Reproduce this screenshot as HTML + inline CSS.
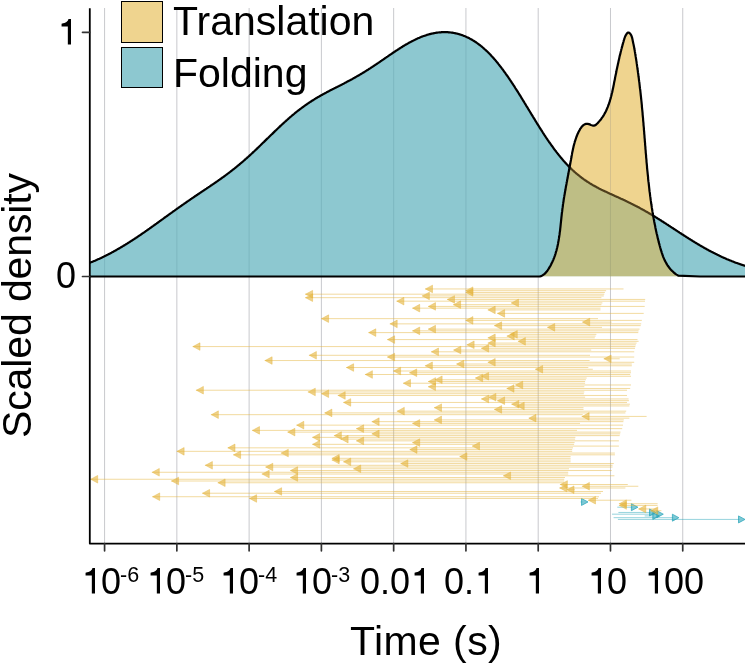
<!DOCTYPE html>
<html><head><meta charset="utf-8"><style>
html,body{margin:0;padding:0;background:#fff;}
body{width:745px;height:664px;position:relative;overflow:hidden;font-family:"Liberation Sans",sans-serif;}
svg{position:absolute;left:0;top:0;}
.t{position:absolute;white-space:nowrap;color:#000;line-height:1;will-change:transform;-webkit-font-smoothing:antialiased;}
.yl{font-size:36px;}
.xl{font-size:36px;}
.xl sup{font-size:21.5px;vertical-align:0;position:relative;top:-12px;margin-left:-1px;}
.leg{font-size:41px;}
.g1{width:0.556em;height:0.709em;vertical-align:0;display:inline-block;position:static;}
.key{position:absolute;box-sizing:border-box;border:1.8px solid #000;}
</style></head><body>
<svg width="745" height="664" viewBox="0 0 745 664">
<defs><clipPath id="pc"><rect x="90" y="0" width="655" height="544"/></clipPath>
<clipPath id="ct"><path d="M88.0 263.5 88.5 263.3 89.0 263.1 89.5 262.9 90.0 262.7 90.5 262.5 91.0 262.3 91.5 262.1 92.0 261.9 92.5 261.7 93.0 261.5 93.5 261.3 94.0 261.1 94.5 260.9 95.0 260.7 95.5 260.4 96.0 260.2 96.5 260.0 97.0 259.8 97.5 259.6 98.0 259.3 98.5 259.1 99.0 258.9 99.5 258.7 100.0 258.4 100.5 258.2 101.0 258.0 101.5 257.7 102.0 257.5 102.5 257.2 103.0 257.0 103.5 256.8 104.0 256.5 104.5 256.3 105.0 256.0 105.5 255.8 106.0 255.5 106.5 255.3 107.0 255.0 107.5 254.8 108.0 254.5 108.5 254.3 109.0 254.0 109.5 253.7 110.0 253.5 110.5 253.2 111.0 252.9 111.5 252.7 112.0 252.4 112.5 252.1 113.0 251.9 113.5 251.6 114.0 251.3 114.5 251.0 115.0 250.8 115.5 250.5 116.0 250.2 116.5 249.9 117.0 249.6 117.5 249.3 118.0 249.1 118.5 248.8 119.0 248.5 119.5 248.2 120.0 247.9 120.5 247.6 121.0 247.3 121.5 247.0 122.0 246.7 122.5 246.4 123.0 246.1 123.5 245.8 124.0 245.5 124.5 245.2 125.0 244.9 125.5 244.6 126.0 244.3 126.5 244.0 127.0 243.7 127.5 243.3 128.0 243.0 128.5 242.7 129.0 242.4 129.5 242.1 130.0 241.8 130.5 241.4 131.0 241.1 131.5 240.8 132.0 240.5 132.5 240.2 133.0 239.8 133.5 239.5 134.0 239.2 134.5 238.8 135.0 238.5 135.5 238.2 136.0 237.9 136.5 237.5 137.0 237.2 137.5 236.9 138.0 236.5 138.5 236.2 139.0 235.8 139.5 235.5 140.0 235.2 140.5 234.8 141.0 234.5 141.5 234.1 142.0 233.8 142.5 233.4 143.0 233.1 143.5 232.8 144.0 232.4 144.5 232.1 145.0 231.7 145.5 231.4 146.0 231.0 146.5 230.7 147.0 230.3 147.5 230.0 148.0 229.6 148.5 229.3 149.0 228.9 149.5 228.6 150.0 228.2 150.5 227.8 151.0 227.5 151.5 227.1 152.0 226.8 152.5 226.4 153.0 226.1 153.5 225.7 154.0 225.3 154.5 225.0 155.0 224.6 155.5 224.3 156.0 223.9 156.5 223.6 157.0 223.2 157.5 222.8 158.0 222.5 158.5 222.1 159.0 221.7 159.5 221.4 160.0 221.0 160.5 220.7 161.0 220.3 161.5 219.9 162.0 219.6 162.5 219.2 163.0 218.9 163.5 218.5 164.0 218.1 164.5 217.8 165.0 217.4 165.5 217.0 166.0 216.7 166.5 216.3 167.0 216.0 167.5 215.6 168.0 215.2 168.5 214.9 169.0 214.5 169.5 214.2 170.0 213.8 170.5 213.4 171.0 213.1 171.5 212.7 172.0 212.4 172.5 212.0 173.0 211.6 173.5 211.3 174.0 210.9 174.5 210.6 175.0 210.2 175.5 209.9 176.0 209.5 176.5 209.1 177.0 208.8 177.5 208.4 178.0 208.1 178.5 207.7 179.0 207.4 179.5 207.0 180.0 206.7 180.5 206.3 181.0 206.0 181.5 205.6 182.0 205.3 182.5 204.9 183.0 204.6 183.5 204.2 184.0 203.9 184.5 203.5 185.0 203.2 185.5 202.8 186.0 202.5 186.5 202.1 187.0 201.8 187.5 201.4 188.0 201.1 188.5 200.7 189.0 200.4 189.5 200.1 190.0 199.7 190.5 199.4 191.0 199.0 191.5 198.7 192.0 198.3 192.5 198.0 193.0 197.7 193.5 197.3 194.0 197.0 194.5 196.6 195.0 196.3 195.5 196.0 196.0 195.6 196.5 195.3 197.0 195.0 197.5 194.6 198.0 194.3 198.5 194.0 199.0 193.6 199.5 193.3 200.0 192.9 200.5 192.6 201.0 192.3 201.5 191.9 202.0 191.6 202.5 191.3 203.0 190.9 203.5 190.6 204.0 190.3 204.5 189.9 205.0 189.6 205.5 189.3 206.0 188.9 206.5 188.6 207.0 188.2 207.5 187.9 208.0 187.6 208.5 187.2 209.0 186.9 209.5 186.6 210.0 186.2 210.5 185.9 211.0 185.5 211.5 185.2 212.0 184.9 212.5 184.5 213.0 184.2 213.5 183.8 214.0 183.5 214.5 183.2 215.0 182.8 215.5 182.5 216.0 182.1 216.5 181.8 217.0 181.4 217.5 181.1 218.0 180.7 218.5 180.4 219.0 180.0 219.5 179.7 220.0 179.3 220.5 179.0 221.0 178.6 221.5 178.3 222.0 177.9 222.5 177.5 223.0 177.2 223.5 176.8 224.0 176.5 224.5 176.1 225.0 175.7 225.5 175.4 226.0 175.0 226.5 174.6 227.0 174.2 227.5 173.9 228.0 173.5 228.5 173.1 229.0 172.7 229.5 172.4 230.0 172.0 230.5 171.6 231.0 171.2 231.5 170.8 232.0 170.4 232.5 170.0 233.0 169.6 233.5 169.3 234.0 168.9 234.5 168.5 235.0 168.1 235.5 167.7 236.0 167.2 236.5 166.8 237.0 166.4 237.5 166.0 238.0 165.6 238.5 165.2 239.0 164.8 239.5 164.4 240.0 163.9 240.5 163.5 241.0 163.1 241.5 162.7 242.0 162.2 242.5 161.8 243.0 161.4 243.5 161.0 244.0 160.5 244.5 160.1 245.0 159.6 245.5 159.2 246.0 158.8 246.5 158.3 247.0 157.9 247.5 157.4 248.0 157.0 248.5 156.5 249.0 156.1 249.5 155.6 250.0 155.2 250.5 154.7 251.0 154.2 251.5 153.8 252.0 153.3 252.5 152.9 253.0 152.4 253.5 151.9 254.0 151.5 254.5 151.0 255.0 150.5 255.5 150.0 256.0 149.6 256.5 149.1 257.0 148.6 257.5 148.1 258.0 147.7 258.5 147.2 259.0 146.7 259.5 146.2 260.0 145.7 260.5 145.3 261.0 144.8 261.5 144.3 262.0 143.8 262.5 143.3 263.0 142.8 263.5 142.3 264.0 141.9 264.5 141.4 265.0 140.9 265.5 140.4 266.0 139.9 266.5 139.4 267.0 138.9 267.5 138.4 268.0 138.0 268.5 137.5 269.0 137.0 269.5 136.5 270.0 136.0 270.5 135.5 271.0 135.0 271.5 134.5 272.0 134.1 272.5 133.6 273.0 133.1 273.5 132.6 274.0 132.1 274.5 131.6 275.0 131.1 275.5 130.7 276.0 130.2 276.5 129.7 277.0 129.2 277.5 128.7 278.0 128.3 278.5 127.8 279.0 127.3 279.5 126.9 280.0 126.4 280.5 125.9 281.0 125.4 281.5 125.0 282.0 124.5 282.5 124.0 283.0 123.6 283.5 123.1 284.0 122.7 284.5 122.2 285.0 121.8 285.5 121.3 286.0 120.9 286.5 120.4 287.0 120.0 287.5 119.5 288.0 119.1 288.5 118.6 289.0 118.2 289.5 117.8 290.0 117.3 290.5 116.9 291.0 116.5 291.5 116.0 292.0 115.6 292.5 115.2 293.0 114.8 293.5 114.4 294.0 114.0 294.5 113.5 295.0 113.1 295.5 112.7 296.0 112.3 296.5 111.9 297.0 111.5 297.5 111.1 298.0 110.7 298.5 110.3 299.0 110.0 299.5 109.6 300.0 109.2 300.5 108.8 301.0 108.4 301.5 108.1 302.0 107.7 302.5 107.3 303.0 107.0 303.5 106.6 304.0 106.2 304.5 105.9 305.0 105.5 305.5 105.2 306.0 104.8 306.5 104.5 307.0 104.1 307.5 103.8 308.0 103.4 308.5 103.1 309.0 102.8 309.5 102.4 310.0 102.1 310.5 101.8 311.0 101.5 311.5 101.1 312.0 100.8 312.5 100.5 313.0 100.2 313.5 99.9 314.0 99.6 314.5 99.2 315.0 98.9 315.5 98.6 316.0 98.3 316.5 98.0 317.0 97.7 317.5 97.4 318.0 97.1 318.5 96.9 319.0 96.6 319.5 96.3 320.0 96.0 320.5 95.7 321.0 95.4 321.5 95.1 322.0 94.9 322.5 94.6 323.0 94.3 323.5 94.0 324.0 93.8 324.5 93.5 325.0 93.2 325.5 92.9 326.0 92.7 326.5 92.4 327.0 92.1 327.5 91.9 328.0 91.6 328.5 91.4 329.0 91.1 329.5 90.8 330.0 90.6 330.5 90.3 331.0 90.1 331.5 89.8 332.0 89.5 332.5 89.3 333.0 89.0 333.5 88.8 334.0 88.5 334.5 88.3 335.0 88.0 335.5 87.8 336.0 87.5 336.5 87.2 337.0 87.0 337.5 86.7 338.0 86.5 338.5 86.2 339.0 86.0 339.5 85.7 340.0 85.5 340.5 85.2 341.0 85.0 341.5 84.7 342.0 84.4 342.5 84.2 343.0 83.9 343.5 83.7 344.0 83.4 344.5 83.2 345.0 82.9 345.5 82.6 346.0 82.4 346.5 82.1 347.0 81.8 347.5 81.6 348.0 81.3 348.5 81.0 349.0 80.8 349.5 80.5 350.0 80.2 350.5 80.0 351.0 79.7 351.5 79.4 352.0 79.2 352.5 78.9 353.0 78.6 353.5 78.3 354.0 78.0 354.5 77.8 355.0 77.5 355.5 77.2 356.0 76.9 356.5 76.6 357.0 76.3 357.5 76.1 358.0 75.8 358.5 75.5 359.0 75.2 359.5 74.9 360.0 74.6 360.5 74.3 361.0 74.0 361.5 73.7 362.0 73.4 362.5 73.1 363.0 72.8 363.5 72.5 364.0 72.2 364.5 71.9 365.0 71.6 365.5 71.3 366.0 70.9 366.5 70.6 367.0 70.3 367.5 70.0 368.0 69.7 368.5 69.4 369.0 69.0 369.5 68.7 370.0 68.4 370.5 68.1 371.0 67.7 371.5 67.4 372.0 67.1 372.5 66.8 373.0 66.4 373.5 66.1 374.0 65.8 374.5 65.4 375.0 65.1 375.5 64.8 376.0 64.4 376.5 64.1 377.0 63.8 377.5 63.4 378.0 63.1 378.5 62.7 379.0 62.4 379.5 62.1 380.0 61.7 380.5 61.4 381.0 61.0 381.5 60.7 382.0 60.3 382.5 60.0 383.0 59.7 383.5 59.3 384.0 59.0 384.5 58.6 385.0 58.3 385.5 57.9 386.0 57.6 386.5 57.2 387.0 56.9 387.5 56.6 388.0 56.2 388.5 55.9 389.0 55.5 389.5 55.2 390.0 54.8 390.5 54.5 391.0 54.2 391.5 53.8 392.0 53.5 392.5 53.1 393.0 52.8 393.5 52.5 394.0 52.1 394.5 51.8 395.0 51.5 395.5 51.1 396.0 50.8 396.5 50.5 397.0 50.2 397.5 49.8 398.0 49.5 398.5 49.2 399.0 48.9 399.5 48.5 400.0 48.2 400.5 47.9 401.0 47.6 401.5 47.3 402.0 47.0 402.5 46.6 403.0 46.3 403.5 46.0 404.0 45.7 404.5 45.4 405.0 45.1 405.5 44.8 406.0 44.5 406.5 44.2 407.0 44.0 407.5 43.7 408.0 43.4 408.5 43.1 409.0 42.8 409.5 42.5 410.0 42.3 410.5 42.0 411.0 41.7 411.5 41.5 412.0 41.2 412.5 40.9 413.0 40.7 413.5 40.4 414.0 40.2 414.5 39.9 415.0 39.7 415.5 39.5 416.0 39.2 416.5 39.0 417.0 38.8 417.5 38.5 418.0 38.3 418.5 38.1 419.0 37.9 419.5 37.7 420.0 37.4 420.5 37.2 421.0 37.0 421.5 36.8 422.0 36.6 422.5 36.5 423.0 36.3 423.5 36.1 424.0 35.9 424.5 35.7 425.0 35.6 425.5 35.4 426.0 35.2 426.5 35.1 427.0 34.9 427.5 34.8 428.0 34.6 428.5 34.5 429.0 34.3 429.5 34.2 430.0 34.1 430.5 33.9 431.0 33.8 431.5 33.7 432.0 33.6 432.5 33.5 433.0 33.4 433.5 33.3 434.0 33.2 434.5 33.1 435.0 33.0 435.5 32.9 436.0 32.8 436.5 32.7 437.0 32.7 437.5 32.6 438.0 32.5 438.5 32.5 439.0 32.4 439.5 32.4 440.0 32.3 440.5 32.3 441.0 32.3 441.5 32.2 442.0 32.2 442.5 32.2 443.0 32.2 443.5 32.1 444.0 32.1 444.5 32.1 445.0 32.1 445.5 32.1 446.0 32.2 446.5 32.2 447.0 32.2 447.5 32.2 448.0 32.2 448.5 32.3 449.0 32.3 449.5 32.4 450.0 32.4 450.5 32.5 451.0 32.5 451.5 32.6 452.0 32.7 452.5 32.7 453.0 32.8 453.5 32.9 454.0 33.0 454.5 33.1 455.0 33.2 455.5 33.3 456.0 33.4 456.5 33.5 457.0 33.6 457.5 33.8 458.0 33.9 458.5 34.0 459.0 34.2 459.5 34.3 460.0 34.5 460.5 34.6 461.0 34.8 461.5 35.0 462.0 35.1 462.5 35.3 463.0 35.5 463.5 35.7 464.0 35.9 464.5 36.1 465.0 36.3 465.5 36.5 466.0 36.7 466.5 36.9 467.0 37.2 467.5 37.4 468.0 37.6 468.5 37.9 469.0 38.1 469.5 38.4 470.0 38.7 470.5 38.9 471.0 39.2 471.5 39.5 472.0 39.8 472.5 40.1 473.0 40.4 473.5 40.7 474.0 41.0 474.5 41.3 475.0 41.6 475.5 42.0 476.0 42.3 476.5 42.6 477.0 43.0 477.5 43.4 478.0 43.7 478.5 44.1 479.0 44.5 479.5 44.8 480.0 45.2 480.5 45.6 481.0 46.0 481.5 46.4 482.0 46.8 482.5 47.3 483.0 47.7 483.5 48.1 484.0 48.6 484.5 49.0 485.0 49.5 485.5 49.9 486.0 50.4 486.5 50.8 487.0 51.3 487.5 51.8 488.0 52.3 488.5 52.8 489.0 53.3 489.5 53.8 490.0 54.3 490.5 54.8 491.0 55.4 491.5 55.9 492.0 56.5 492.5 57.0 493.0 57.6 493.5 58.1 494.0 58.7 494.5 59.3 495.0 59.8 495.5 60.4 496.0 61.0 496.5 61.6 497.0 62.2 497.5 62.8 498.0 63.4 498.5 64.1 499.0 64.7 499.5 65.3 500.0 66.0 500.5 66.6 501.0 67.3 501.5 67.9 502.0 68.6 502.5 69.2 503.0 69.9 503.5 70.6 504.0 71.3 504.5 72.0 505.0 72.6 505.5 73.3 506.0 74.1 506.5 74.8 507.0 75.5 507.5 76.2 508.0 76.9 508.5 77.6 509.0 78.4 509.5 79.1 510.0 79.9 510.5 80.6 511.0 81.3 511.5 82.1 512.0 82.9 512.5 83.6 513.0 84.4 513.5 85.2 514.0 85.9 514.5 86.7 515.0 87.5 515.5 88.3 516.0 89.0 516.5 89.8 517.0 90.6 517.5 91.4 518.0 92.2 518.5 93.0 519.0 93.8 519.5 94.6 520.0 95.4 520.5 96.2 521.0 97.0 521.5 97.9 522.0 98.7 522.5 99.5 523.0 100.3 523.5 101.1 524.0 101.9 524.5 102.8 525.0 103.6 525.5 104.4 526.0 105.2 526.5 106.1 527.0 106.9 527.5 107.7 528.0 108.5 528.5 109.4 529.0 110.2 529.5 111.0 530.0 111.8 530.5 112.7 531.0 113.5 531.5 114.3 532.0 115.1 532.5 115.9 533.0 116.8 533.5 117.6 534.0 118.4 534.5 119.2 535.0 120.0 535.5 120.9 536.0 121.7 536.5 122.5 537.0 123.3 537.5 124.1 538.0 124.9 538.5 125.7 539.0 126.5 539.5 127.3 540.0 128.1 540.5 128.9 541.0 129.7 541.5 130.4 542.0 131.2 542.5 132.0 543.0 132.8 543.5 133.5 544.0 134.3 544.5 135.1 545.0 135.8 545.5 136.6 546.0 137.3 546.5 138.1 547.0 138.8 547.5 139.6 548.0 140.3 548.5 141.0 549.0 141.8 549.5 142.5 550.0 143.2 550.5 143.9 551.0 144.6 551.5 145.3 552.0 146.0 552.5 146.7 553.0 147.4 553.5 148.1 554.0 148.8 554.5 149.5 555.0 150.1 555.5 150.8 556.0 151.4 556.5 152.1 557.0 152.7 557.5 153.4 558.0 154.0 558.5 154.7 559.0 155.3 559.5 155.9 560.0 156.5 560.5 157.1 561.0 157.7 561.5 158.3 562.0 158.9 562.5 159.5 563.0 160.1 563.5 160.7 564.0 161.2 564.5 161.8 565.0 162.3 565.5 162.9 566.0 163.4 566.5 164.0 567.0 164.5 567.5 165.0 568.0 165.6 568.5 166.1 569.0 166.6 569.5 167.1 570.0 167.6 570.5 168.1 571.0 168.6 571.5 169.1 572.0 169.5 572.5 170.0 573.0 170.5 573.5 170.9 574.0 171.4 574.5 171.8 575.0 172.3 575.5 172.7 576.0 173.2 576.5 173.6 577.0 174.0 577.5 174.4 578.0 174.8 578.5 175.2 579.0 175.6 579.5 176.0 580.0 176.4 580.5 176.8 581.0 177.2 581.5 177.6 582.0 178.0 582.5 178.3 583.0 178.7 583.5 179.1 584.0 179.4 584.5 179.8 585.0 180.1 585.5 180.5 586.0 180.8 586.5 181.1 587.0 181.5 587.5 181.8 588.0 182.1 588.5 182.4 589.0 182.7 589.5 183.1 590.0 183.4 590.5 183.7 591.0 184.0 591.5 184.3 592.0 184.6 592.5 184.9 593.0 185.2 593.5 185.4 594.0 185.7 594.5 186.0 595.0 186.3 595.5 186.6 596.0 186.8 596.5 187.1 597.0 187.4 597.5 187.6 598.0 187.9 598.5 188.2 599.0 188.4 599.5 188.7 600.0 188.9 600.5 189.2 601.0 189.4 601.5 189.7 602.0 189.9 602.5 190.2 603.0 190.4 603.5 190.6 604.0 190.9 604.5 191.1 605.0 191.4 605.5 191.6 606.0 191.8 606.5 192.1 607.0 192.3 607.5 192.5 608.0 192.8 608.5 193.0 609.0 193.2 609.5 193.5 610.0 193.7 610.5 193.9 611.0 194.1 611.5 194.4 612.0 194.6 612.5 194.8 613.0 195.1 613.5 195.3 614.0 195.5 614.5 195.7 615.0 196.0 615.5 196.2 616.0 196.4 616.5 196.6 617.0 196.9 617.5 197.1 618.0 197.3 618.5 197.5 619.0 197.8 619.5 198.0 620.0 198.2 620.5 198.5 621.0 198.7 621.5 198.9 622.0 199.1 622.5 199.4 623.0 199.6 623.5 199.8 624.0 200.1 624.5 200.3 625.0 200.5 625.5 200.8 626.0 201.0 626.5 201.3 627.0 201.5 627.5 201.7 628.0 202.0 628.5 202.2 629.0 202.5 629.5 202.7 630.0 202.9 630.5 203.2 631.0 203.4 631.5 203.7 632.0 203.9 632.5 204.2 633.0 204.4 633.5 204.7 634.0 205.0 634.5 205.2 635.0 205.5 635.5 205.7 636.0 206.0 636.5 206.2 637.0 206.5 637.5 206.8 638.0 207.0 638.5 207.3 639.0 207.6 639.5 207.8 640.0 208.1 640.5 208.4 641.0 208.7 641.5 208.9 642.0 209.2 642.5 209.5 643.0 209.8 643.5 210.0 644.0 210.3 644.5 210.6 645.0 210.9 645.5 211.2 646.0 211.5 646.5 211.7 647.0 212.0 647.5 212.3 648.0 212.6 648.5 212.9 649.0 213.2 649.5 213.5 650.0 213.8 650.5 214.1 651.0 214.4 651.5 214.7 652.0 215.0 652.5 215.3 653.0 215.6 653.5 215.9 654.0 216.2 654.5 216.5 655.0 216.8 655.5 217.1 656.0 217.4 656.5 217.7 657.0 218.0 657.5 218.3 658.0 218.7 658.5 219.0 659.0 219.3 659.5 219.6 660.0 219.9 660.5 220.2 661.0 220.5 661.5 220.9 662.0 221.2 662.5 221.5 663.0 221.8 663.5 222.1 664.0 222.5 664.5 222.8 665.0 223.1 665.5 223.4 666.0 223.7 666.5 224.1 667.0 224.4 667.5 224.7 668.0 225.0 668.5 225.4 669.0 225.7 669.5 226.0 670.0 226.3 670.5 226.7 671.0 227.0 671.5 227.3 672.0 227.7 672.5 228.0 673.0 228.3 673.5 228.6 674.0 229.0 674.5 229.3 675.0 229.6 675.5 229.9 676.0 230.3 676.5 230.6 677.0 230.9 677.5 231.2 678.0 231.6 678.5 231.9 679.0 232.2 679.5 232.6 680.0 232.9 680.5 233.2 681.0 233.5 681.5 233.9 682.0 234.2 682.5 234.5 683.0 234.8 683.5 235.1 684.0 235.5 684.5 235.8 685.0 236.1 685.5 236.4 686.0 236.8 686.5 237.1 687.0 237.4 687.5 237.7 688.0 238.0 688.5 238.3 689.0 238.7 689.5 239.0 690.0 239.3 690.5 239.6 691.0 239.9 691.5 240.2 692.0 240.5 692.5 240.8 693.0 241.2 693.5 241.5 694.0 241.8 694.5 242.1 695.0 242.4 695.5 242.7 696.0 243.0 696.5 243.3 697.0 243.6 697.5 243.9 698.0 244.2 698.5 244.5 699.0 244.8 699.5 245.1 700.0 245.4 700.5 245.7 701.0 246.0 701.5 246.3 702.0 246.5 702.5 246.8 703.0 247.1 703.5 247.4 704.0 247.7 704.5 248.0 705.0 248.3 705.5 248.5 706.0 248.8 706.5 249.1 707.0 249.4 707.5 249.6 708.0 249.9 708.5 250.2 709.0 250.5 709.5 250.7 710.0 251.0 710.5 251.3 711.0 251.5 711.5 251.8 712.0 252.0 712.5 252.3 713.0 252.6 713.5 252.8 714.0 253.1 714.5 253.3 715.0 253.6 715.5 253.8 716.0 254.1 716.5 254.3 717.0 254.6 717.5 254.8 718.0 255.1 718.5 255.3 719.0 255.5 719.5 255.8 720.0 256.0 720.5 256.3 721.0 256.5 721.5 256.7 722.0 257.0 722.5 257.2 723.0 257.4 723.5 257.6 724.0 257.9 724.5 258.1 725.0 258.3 725.5 258.5 726.0 258.7 726.5 259.0 727.0 259.2 727.5 259.4 728.0 259.6 728.5 259.8 729.0 260.0 729.5 260.2 730.0 260.4 730.5 260.6 731.0 260.8 731.5 261.0 732.0 261.2 732.5 261.4 733.0 261.6 733.5 261.8 734.0 262.0 734.5 262.2 735.0 262.4 735.5 262.6 736.0 262.7 736.5 262.9 737.0 263.1 737.5 263.3 738.0 263.5 738.5 263.6 739.0 263.8 739.5 264.0 740.0 264.2 740.5 264.3 741.0 264.5 741.5 264.7 742.0 264.8 742.5 265.0 743.0 265.2 743.5 265.3 744.0 265.5 744.5 265.6 745.0 265.8 745.5 266.0 746.0 266.1 746.5 266.3 L746.50 276.30 L88.00 276.30 Z"/></clipPath>
<clipPath id="cy"><path d="M520.0 276.5 536.2 276.5 537.2 276.5 538.2 276.5 539.1 276.5 540.0 276.4 540.9 276.2 541.7 275.8 542.5 275.4 543.2 274.9 543.9 274.4 544.6 273.8 545.3 273.2 545.9 272.5 546.5 271.8 547.1 271.0 547.6 270.3 548.1 269.5 548.7 268.7 549.2 267.9 549.6 267.1 550.1 266.3 550.6 265.5 551.0 264.7 551.4 263.8 551.8 263.0 552.2 262.2 552.6 261.3 553.0 260.5 553.4 259.6 553.7 258.7 554.1 257.9 554.4 257.0 554.7 256.1 555.0 255.3 555.3 254.4 555.6 253.5 555.8 252.6 556.1 251.7 556.4 250.8 556.6 249.9 556.8 249.0 557.1 248.0 557.3 247.1 557.5 246.2 557.7 245.3 557.9 244.4 558.1 243.4 558.2 242.5 558.4 241.6 558.6 240.6 558.7 239.7 558.9 238.7 559.0 237.8 559.2 236.8 559.3 235.9 559.5 234.9 559.6 234.0 559.7 233.0 559.8 232.1 560.0 231.1 560.1 230.2 560.2 229.2 560.3 228.2 560.4 227.3 560.5 226.3 560.6 225.4 560.7 224.4 560.8 223.4 560.9 222.5 561.0 221.5 561.1 220.6 561.2 219.6 561.3 218.6 561.4 217.7 561.5 216.7 561.6 215.8 561.7 214.8 561.8 213.9 561.9 212.9 562.1 211.9 562.2 211.0 562.3 210.0 562.4 209.1 562.5 208.2 562.7 207.2 562.8 206.3 562.9 205.3 563.0 204.4 563.2 203.4 563.3 202.5 563.5 201.6 563.6 200.6 563.7 199.7 563.9 198.8 564.0 197.8 564.2 196.9 564.3 196.0 564.5 195.1 564.7 194.1 564.8 193.2 565.0 192.3 565.1 191.3 565.3 190.4 565.5 189.5 565.6 188.6 565.8 187.6 565.9 186.7 566.1 185.8 566.3 184.9 566.5 183.9 566.6 183.0 566.8 182.1 567.0 181.2 567.1 180.3 567.3 179.3 567.5 178.4 567.7 177.5 567.8 176.6 568.0 175.6 568.2 174.7 568.4 173.8 568.5 172.9 568.7 171.9 568.9 171.0 569.1 170.1 569.2 169.2 569.4 168.2 569.6 167.3 569.8 166.4 569.9 165.5 570.1 164.5 570.3 163.6 570.4 162.7 570.6 161.7 570.8 160.8 571.0 159.9 571.1 158.9 571.3 158.0 571.5 157.0 571.6 156.1 571.8 155.2 572.0 154.2 572.1 153.3 572.3 152.3 572.5 151.4 572.7 150.5 572.9 149.5 573.1 148.6 573.3 147.7 573.5 146.7 573.7 145.8 574.0 144.9 574.2 144.0 574.5 143.0 574.7 142.1 575.0 141.2 575.3 140.3 575.6 139.4 575.9 138.5 576.2 137.6 576.5 136.7 576.9 135.8 577.2 134.9 577.6 134.1 578.0 133.2 578.4 132.3 578.8 131.5 579.3 130.6 579.8 129.8 580.2 128.9 580.8 128.1 581.3 127.3 581.9 126.6 582.5 126.0 583.1 125.4 583.8 124.8 584.5 124.4 585.2 124.1 586.1 123.9 586.9 123.8 587.8 123.9 588.8 124.1 589.8 124.4 590.9 124.9 591.9 125.3 593.0 125.6 593.9 125.6 594.8 125.4 595.6 125.0 596.3 124.4 597.0 123.7 597.7 123.1 598.4 122.4 599.0 121.6 599.6 120.9 600.2 120.2 600.8 119.5 601.4 118.7 601.9 117.9 602.5 117.2 603.0 116.4 603.5 115.6 604.0 114.8 604.4 114.0 604.9 113.2 605.3 112.3 605.8 111.5 606.2 110.6 606.6 109.8 606.9 108.9 607.3 108.1 607.7 107.2 608.0 106.3 608.3 105.4 608.7 104.5 609.0 103.6 609.3 102.7 609.6 101.8 609.9 100.9 610.1 100.0 610.4 99.1 610.7 98.2 610.9 97.3 611.2 96.3 611.4 95.4 611.6 94.5 611.8 93.5 612.1 92.6 612.3 91.7 612.5 90.7 612.7 89.8 612.9 88.8 613.1 87.9 613.3 87.0 613.5 86.0 613.7 85.1 613.9 84.1 614.0 83.2 614.2 82.3 614.4 81.3 614.6 80.4 614.8 79.5 615.0 78.5 615.1 77.6 615.3 76.7 615.5 75.8 615.7 74.8 615.9 73.9 616.1 73.0 616.3 72.1 616.4 71.2 616.6 70.2 616.8 69.3 617.0 68.4 617.2 67.5 617.4 66.6 617.6 65.7 617.8 64.8 618.0 63.8 618.2 62.9 618.4 62.0 618.6 61.1 618.8 60.2 619.0 59.3 619.2 58.4 619.4 57.4 619.6 56.5 619.8 55.6 620.1 54.7 620.3 53.8 620.5 52.9 620.7 52.0 621.0 51.0 621.2 50.1 621.4 49.2 621.7 48.3 621.9 47.3 622.2 46.4 622.4 45.5 622.7 44.6 622.9 43.6 623.2 42.7 623.5 41.8 623.7 40.8 624.0 39.9 624.3 38.9 624.6 38.0 624.9 37.1 625.3 36.2 625.7 35.3 626.2 34.5 626.7 33.8 627.3 33.1 628.0 32.5 628.8 32.5 629.6 33.1 630.2 33.7 630.8 34.5 631.2 35.3 631.6 36.2 631.9 37.1 632.2 38.1 632.4 39.0 632.6 40.0 632.8 41.0 633.0 42.0 633.2 42.9 633.4 43.9 633.6 44.8 633.8 45.8 634.0 46.7 634.2 47.7 634.3 48.6 634.5 49.5 634.7 50.5 634.8 51.4 635.0 52.3 635.1 53.2 635.3 54.2 635.4 55.1 635.6 56.0 635.7 56.9 635.9 57.9 636.0 58.8 636.2 59.7 636.3 60.6 636.5 61.6 636.6 62.5 636.7 63.4 636.9 64.3 637.0 65.3 637.1 66.2 637.3 67.1 637.4 68.1 637.5 69.0 637.7 69.9 637.8 70.9 637.9 71.8 638.0 72.7 638.2 73.7 638.3 74.6 638.4 75.5 638.5 76.5 638.7 77.4 638.8 78.3 638.9 79.3 639.0 80.2 639.1 81.2 639.3 82.1 639.4 83.0 639.5 84.0 639.6 84.9 639.7 85.9 639.8 86.8 639.9 87.7 640.0 88.7 640.2 89.6 640.3 90.6 640.4 91.5 640.5 92.5 640.6 93.4 640.7 94.3 640.8 95.3 640.9 96.2 641.0 97.2 641.1 98.1 641.2 99.1 641.3 100.0 641.4 101.0 641.5 101.9 641.6 102.9 641.7 103.8 641.8 104.8 641.9 105.7 641.9 106.6 642.0 107.6 642.1 108.5 642.2 109.5 642.3 110.4 642.4 111.4 642.5 112.3 642.6 113.3 642.6 114.2 642.7 115.2 642.8 116.1 642.9 117.1 643.0 118.0 643.1 119.0 643.1 119.9 643.2 120.9 643.3 121.8 643.4 122.7 643.5 123.7 643.5 124.6 643.6 125.6 643.7 126.5 643.8 127.5 643.9 128.4 643.9 129.4 644.0 130.3 644.1 131.3 644.2 132.2 644.2 133.2 644.3 134.1 644.4 135.1 644.5 136.0 644.5 137.0 644.6 137.9 644.7 138.9 644.8 139.8 644.8 140.7 644.9 141.7 645.0 142.6 645.1 143.6 645.1 144.5 645.2 145.5 645.3 146.4 645.4 147.4 645.4 148.3 645.5 149.3 645.6 150.2 645.7 151.2 645.7 152.1 645.8 153.0 645.9 154.0 646.0 154.9 646.1 155.9 646.1 156.8 646.2 157.8 646.3 158.7 646.4 159.7 646.5 160.6 646.5 161.6 646.6 162.5 646.7 163.4 646.8 164.4 646.9 165.3 647.0 166.3 647.0 167.2 647.1 168.2 647.2 169.1 647.3 170.1 647.4 171.0 647.5 171.9 647.6 172.9 647.7 173.8 647.8 174.8 647.9 175.7 648.0 176.7 648.1 177.6 648.1 178.5 648.2 179.5 648.3 180.4 648.4 181.4 648.6 182.3 648.7 183.3 648.8 184.2 648.9 185.1 649.0 186.1 649.1 187.0 649.2 188.0 649.3 188.9 649.4 189.8 649.5 190.8 649.6 191.7 649.8 192.7 649.9 193.6 650.0 194.5 650.1 195.5 650.2 196.4 650.4 197.3 650.5 198.3 650.6 199.2 650.7 200.2 650.9 201.1 651.0 202.0 651.1 203.0 651.3 203.9 651.4 204.8 651.6 205.8 651.7 206.7 651.8 207.7 652.0 208.6 652.1 209.5 652.3 210.5 652.4 211.4 652.6 212.3 652.7 213.3 652.9 214.2 653.1 215.1 653.2 216.1 653.4 217.0 653.6 217.9 653.7 218.9 653.9 219.8 654.1 220.7 654.2 221.7 654.4 222.6 654.6 223.5 654.8 224.4 655.0 225.4 655.2 226.3 655.3 227.2 655.5 228.2 655.7 229.1 655.9 230.0 656.1 230.9 656.3 231.9 656.5 232.8 656.7 233.7 657.0 234.7 657.2 235.6 657.4 236.5 657.6 237.4 657.8 238.4 658.1 239.3 658.3 240.2 658.5 241.1 658.7 242.1 659.0 243.0 659.2 243.9 659.5 244.8 659.7 245.7 660.0 246.7 660.2 247.6 660.5 248.5 660.7 249.4 661.0 250.3 661.3 251.2 661.6 252.2 661.9 253.1 662.2 253.9 662.5 254.8 662.8 255.7 663.1 256.6 663.5 257.5 663.9 258.3 664.2 259.2 664.6 260.1 665.0 260.9 665.5 261.7 665.9 262.6 666.4 263.4 666.8 264.2 667.3 265.0 667.8 265.8 668.4 266.5 668.9 267.3 669.5 268.0 670.1 268.8 670.7 269.5 671.4 270.2 672.1 270.9 672.8 271.5 673.5 272.2 674.2 272.9 675.0 273.5 675.8 274.1 676.6 274.6 677.5 275.1 678.3 275.6 700.0 276.5 700.0 276.5 L700.00 276.30 L520.00 276.30 Z"/></clipPath>
</defs>
<line x1="104.58" y1="8" x2="104.58" y2="543.6" stroke="rgb(200,201,205)" stroke-width="1.00"/><line x1="176.85" y1="8" x2="176.85" y2="543.6" stroke="rgb(200,201,205)" stroke-width="1.00"/><line x1="249.12" y1="8" x2="249.12" y2="543.6" stroke="rgb(200,201,205)" stroke-width="1.00"/><line x1="321.39" y1="8" x2="321.39" y2="543.6" stroke="rgb(200,201,205)" stroke-width="1.00"/><line x1="393.66" y1="8" x2="393.66" y2="543.6" stroke="rgb(200,201,205)" stroke-width="1.00"/><line x1="465.93" y1="8" x2="465.93" y2="543.6" stroke="rgb(200,201,205)" stroke-width="1.00"/><line x1="538.20" y1="8" x2="538.20" y2="543.6" stroke="rgb(200,201,205)" stroke-width="1.00"/><line x1="610.47" y1="8" x2="610.47" y2="543.6" stroke="rgb(200,201,205)" stroke-width="1.00"/><line x1="682.74" y1="8" x2="682.74" y2="543.6" stroke="rgb(200,201,205)" stroke-width="1.00"/>
<g clip-path="url(#pc)">
<path d="M88.0 263.5 88.5 263.3 89.0 263.1 89.5 262.9 90.0 262.7 90.5 262.5 91.0 262.3 91.5 262.1 92.0 261.9 92.5 261.7 93.0 261.5 93.5 261.3 94.0 261.1 94.5 260.9 95.0 260.7 95.5 260.4 96.0 260.2 96.5 260.0 97.0 259.8 97.5 259.6 98.0 259.3 98.5 259.1 99.0 258.9 99.5 258.7 100.0 258.4 100.5 258.2 101.0 258.0 101.5 257.7 102.0 257.5 102.5 257.2 103.0 257.0 103.5 256.8 104.0 256.5 104.5 256.3 105.0 256.0 105.5 255.8 106.0 255.5 106.5 255.3 107.0 255.0 107.5 254.8 108.0 254.5 108.5 254.3 109.0 254.0 109.5 253.7 110.0 253.5 110.5 253.2 111.0 252.9 111.5 252.7 112.0 252.4 112.5 252.1 113.0 251.9 113.5 251.6 114.0 251.3 114.5 251.0 115.0 250.8 115.5 250.5 116.0 250.2 116.5 249.9 117.0 249.6 117.5 249.3 118.0 249.1 118.5 248.8 119.0 248.5 119.5 248.2 120.0 247.9 120.5 247.6 121.0 247.3 121.5 247.0 122.0 246.7 122.5 246.4 123.0 246.1 123.5 245.8 124.0 245.5 124.5 245.2 125.0 244.9 125.5 244.6 126.0 244.3 126.5 244.0 127.0 243.7 127.5 243.3 128.0 243.0 128.5 242.7 129.0 242.4 129.5 242.1 130.0 241.8 130.5 241.4 131.0 241.1 131.5 240.8 132.0 240.5 132.5 240.2 133.0 239.8 133.5 239.5 134.0 239.2 134.5 238.8 135.0 238.5 135.5 238.2 136.0 237.9 136.5 237.5 137.0 237.2 137.5 236.9 138.0 236.5 138.5 236.2 139.0 235.8 139.5 235.5 140.0 235.2 140.5 234.8 141.0 234.5 141.5 234.1 142.0 233.8 142.5 233.4 143.0 233.1 143.5 232.8 144.0 232.4 144.5 232.1 145.0 231.7 145.5 231.4 146.0 231.0 146.5 230.7 147.0 230.3 147.5 230.0 148.0 229.6 148.5 229.3 149.0 228.9 149.5 228.6 150.0 228.2 150.5 227.8 151.0 227.5 151.5 227.1 152.0 226.8 152.5 226.4 153.0 226.1 153.5 225.7 154.0 225.3 154.5 225.0 155.0 224.6 155.5 224.3 156.0 223.9 156.5 223.6 157.0 223.2 157.5 222.8 158.0 222.5 158.5 222.1 159.0 221.7 159.5 221.4 160.0 221.0 160.5 220.7 161.0 220.3 161.5 219.9 162.0 219.6 162.5 219.2 163.0 218.9 163.5 218.5 164.0 218.1 164.5 217.8 165.0 217.4 165.5 217.0 166.0 216.7 166.5 216.3 167.0 216.0 167.5 215.6 168.0 215.2 168.5 214.9 169.0 214.5 169.5 214.2 170.0 213.8 170.5 213.4 171.0 213.1 171.5 212.7 172.0 212.4 172.5 212.0 173.0 211.6 173.5 211.3 174.0 210.9 174.5 210.6 175.0 210.2 175.5 209.9 176.0 209.5 176.5 209.1 177.0 208.8 177.5 208.4 178.0 208.1 178.5 207.7 179.0 207.4 179.5 207.0 180.0 206.7 180.5 206.3 181.0 206.0 181.5 205.6 182.0 205.3 182.5 204.9 183.0 204.6 183.5 204.2 184.0 203.9 184.5 203.5 185.0 203.2 185.5 202.8 186.0 202.5 186.5 202.1 187.0 201.8 187.5 201.4 188.0 201.1 188.5 200.7 189.0 200.4 189.5 200.1 190.0 199.7 190.5 199.4 191.0 199.0 191.5 198.7 192.0 198.3 192.5 198.0 193.0 197.7 193.5 197.3 194.0 197.0 194.5 196.6 195.0 196.3 195.5 196.0 196.0 195.6 196.5 195.3 197.0 195.0 197.5 194.6 198.0 194.3 198.5 194.0 199.0 193.6 199.5 193.3 200.0 192.9 200.5 192.6 201.0 192.3 201.5 191.9 202.0 191.6 202.5 191.3 203.0 190.9 203.5 190.6 204.0 190.3 204.5 189.9 205.0 189.6 205.5 189.3 206.0 188.9 206.5 188.6 207.0 188.2 207.5 187.9 208.0 187.6 208.5 187.2 209.0 186.9 209.5 186.6 210.0 186.2 210.5 185.9 211.0 185.5 211.5 185.2 212.0 184.9 212.5 184.5 213.0 184.2 213.5 183.8 214.0 183.5 214.5 183.2 215.0 182.8 215.5 182.5 216.0 182.1 216.5 181.8 217.0 181.4 217.5 181.1 218.0 180.7 218.5 180.4 219.0 180.0 219.5 179.7 220.0 179.3 220.5 179.0 221.0 178.6 221.5 178.3 222.0 177.9 222.5 177.5 223.0 177.2 223.5 176.8 224.0 176.5 224.5 176.1 225.0 175.7 225.5 175.4 226.0 175.0 226.5 174.6 227.0 174.2 227.5 173.9 228.0 173.5 228.5 173.1 229.0 172.7 229.5 172.4 230.0 172.0 230.5 171.6 231.0 171.2 231.5 170.8 232.0 170.4 232.5 170.0 233.0 169.6 233.5 169.3 234.0 168.9 234.5 168.5 235.0 168.1 235.5 167.7 236.0 167.2 236.5 166.8 237.0 166.4 237.5 166.0 238.0 165.6 238.5 165.2 239.0 164.8 239.5 164.4 240.0 163.9 240.5 163.5 241.0 163.1 241.5 162.7 242.0 162.2 242.5 161.8 243.0 161.4 243.5 161.0 244.0 160.5 244.5 160.1 245.0 159.6 245.5 159.2 246.0 158.8 246.5 158.3 247.0 157.9 247.5 157.4 248.0 157.0 248.5 156.5 249.0 156.1 249.5 155.6 250.0 155.2 250.5 154.7 251.0 154.2 251.5 153.8 252.0 153.3 252.5 152.9 253.0 152.4 253.5 151.9 254.0 151.5 254.5 151.0 255.0 150.5 255.5 150.0 256.0 149.6 256.5 149.1 257.0 148.6 257.5 148.1 258.0 147.7 258.5 147.2 259.0 146.7 259.5 146.2 260.0 145.7 260.5 145.3 261.0 144.8 261.5 144.3 262.0 143.8 262.5 143.3 263.0 142.8 263.5 142.3 264.0 141.9 264.5 141.4 265.0 140.9 265.5 140.4 266.0 139.9 266.5 139.4 267.0 138.9 267.5 138.4 268.0 138.0 268.5 137.5 269.0 137.0 269.5 136.5 270.0 136.0 270.5 135.5 271.0 135.0 271.5 134.5 272.0 134.1 272.5 133.6 273.0 133.1 273.5 132.6 274.0 132.1 274.5 131.6 275.0 131.1 275.5 130.7 276.0 130.2 276.5 129.7 277.0 129.2 277.5 128.7 278.0 128.3 278.5 127.8 279.0 127.3 279.5 126.9 280.0 126.4 280.5 125.9 281.0 125.4 281.5 125.0 282.0 124.5 282.5 124.0 283.0 123.6 283.5 123.1 284.0 122.7 284.5 122.2 285.0 121.8 285.5 121.3 286.0 120.9 286.5 120.4 287.0 120.0 287.5 119.5 288.0 119.1 288.5 118.6 289.0 118.2 289.5 117.8 290.0 117.3 290.5 116.9 291.0 116.5 291.5 116.0 292.0 115.6 292.5 115.2 293.0 114.8 293.5 114.4 294.0 114.0 294.5 113.5 295.0 113.1 295.5 112.7 296.0 112.3 296.5 111.9 297.0 111.5 297.5 111.1 298.0 110.7 298.5 110.3 299.0 110.0 299.5 109.6 300.0 109.2 300.5 108.8 301.0 108.4 301.5 108.1 302.0 107.7 302.5 107.3 303.0 107.0 303.5 106.6 304.0 106.2 304.5 105.9 305.0 105.5 305.5 105.2 306.0 104.8 306.5 104.5 307.0 104.1 307.5 103.8 308.0 103.4 308.5 103.1 309.0 102.8 309.5 102.4 310.0 102.1 310.5 101.8 311.0 101.5 311.5 101.1 312.0 100.8 312.5 100.5 313.0 100.2 313.5 99.9 314.0 99.6 314.5 99.2 315.0 98.9 315.5 98.6 316.0 98.3 316.5 98.0 317.0 97.7 317.5 97.4 318.0 97.1 318.5 96.9 319.0 96.6 319.5 96.3 320.0 96.0 320.5 95.7 321.0 95.4 321.5 95.1 322.0 94.9 322.5 94.6 323.0 94.3 323.5 94.0 324.0 93.8 324.5 93.5 325.0 93.2 325.5 92.9 326.0 92.7 326.5 92.4 327.0 92.1 327.5 91.9 328.0 91.6 328.5 91.4 329.0 91.1 329.5 90.8 330.0 90.6 330.5 90.3 331.0 90.1 331.5 89.8 332.0 89.5 332.5 89.3 333.0 89.0 333.5 88.8 334.0 88.5 334.5 88.3 335.0 88.0 335.5 87.8 336.0 87.5 336.5 87.2 337.0 87.0 337.5 86.7 338.0 86.5 338.5 86.2 339.0 86.0 339.5 85.7 340.0 85.5 340.5 85.2 341.0 85.0 341.5 84.7 342.0 84.4 342.5 84.2 343.0 83.9 343.5 83.7 344.0 83.4 344.5 83.2 345.0 82.9 345.5 82.6 346.0 82.4 346.5 82.1 347.0 81.8 347.5 81.6 348.0 81.3 348.5 81.0 349.0 80.8 349.5 80.5 350.0 80.2 350.5 80.0 351.0 79.7 351.5 79.4 352.0 79.2 352.5 78.9 353.0 78.6 353.5 78.3 354.0 78.0 354.5 77.8 355.0 77.5 355.5 77.2 356.0 76.9 356.5 76.6 357.0 76.3 357.5 76.1 358.0 75.8 358.5 75.5 359.0 75.2 359.5 74.9 360.0 74.6 360.5 74.3 361.0 74.0 361.5 73.7 362.0 73.4 362.5 73.1 363.0 72.8 363.5 72.5 364.0 72.2 364.5 71.9 365.0 71.6 365.5 71.3 366.0 70.9 366.5 70.6 367.0 70.3 367.5 70.0 368.0 69.7 368.5 69.4 369.0 69.0 369.5 68.7 370.0 68.4 370.5 68.1 371.0 67.7 371.5 67.4 372.0 67.1 372.5 66.8 373.0 66.4 373.5 66.1 374.0 65.8 374.5 65.4 375.0 65.1 375.5 64.8 376.0 64.4 376.5 64.1 377.0 63.8 377.5 63.4 378.0 63.1 378.5 62.7 379.0 62.4 379.5 62.1 380.0 61.7 380.5 61.4 381.0 61.0 381.5 60.7 382.0 60.3 382.5 60.0 383.0 59.7 383.5 59.3 384.0 59.0 384.5 58.6 385.0 58.3 385.5 57.9 386.0 57.6 386.5 57.2 387.0 56.9 387.5 56.6 388.0 56.2 388.5 55.9 389.0 55.5 389.5 55.2 390.0 54.8 390.5 54.5 391.0 54.2 391.5 53.8 392.0 53.5 392.5 53.1 393.0 52.8 393.5 52.5 394.0 52.1 394.5 51.8 395.0 51.5 395.5 51.1 396.0 50.8 396.5 50.5 397.0 50.2 397.5 49.8 398.0 49.5 398.5 49.2 399.0 48.9 399.5 48.5 400.0 48.2 400.5 47.9 401.0 47.6 401.5 47.3 402.0 47.0 402.5 46.6 403.0 46.3 403.5 46.0 404.0 45.7 404.5 45.4 405.0 45.1 405.5 44.8 406.0 44.5 406.5 44.2 407.0 44.0 407.5 43.7 408.0 43.4 408.5 43.1 409.0 42.8 409.5 42.5 410.0 42.3 410.5 42.0 411.0 41.7 411.5 41.5 412.0 41.2 412.5 40.9 413.0 40.7 413.5 40.4 414.0 40.2 414.5 39.9 415.0 39.7 415.5 39.5 416.0 39.2 416.5 39.0 417.0 38.8 417.5 38.5 418.0 38.3 418.5 38.1 419.0 37.9 419.5 37.7 420.0 37.4 420.5 37.2 421.0 37.0 421.5 36.8 422.0 36.6 422.5 36.5 423.0 36.3 423.5 36.1 424.0 35.9 424.5 35.7 425.0 35.6 425.5 35.4 426.0 35.2 426.5 35.1 427.0 34.9 427.5 34.8 428.0 34.6 428.5 34.5 429.0 34.3 429.5 34.2 430.0 34.1 430.5 33.9 431.0 33.8 431.5 33.7 432.0 33.6 432.5 33.5 433.0 33.4 433.5 33.3 434.0 33.2 434.5 33.1 435.0 33.0 435.5 32.9 436.0 32.8 436.5 32.7 437.0 32.7 437.5 32.6 438.0 32.5 438.5 32.5 439.0 32.4 439.5 32.4 440.0 32.3 440.5 32.3 441.0 32.3 441.5 32.2 442.0 32.2 442.5 32.2 443.0 32.2 443.5 32.1 444.0 32.1 444.5 32.1 445.0 32.1 445.5 32.1 446.0 32.2 446.5 32.2 447.0 32.2 447.5 32.2 448.0 32.2 448.5 32.3 449.0 32.3 449.5 32.4 450.0 32.4 450.5 32.5 451.0 32.5 451.5 32.6 452.0 32.7 452.5 32.7 453.0 32.8 453.5 32.9 454.0 33.0 454.5 33.1 455.0 33.2 455.5 33.3 456.0 33.4 456.5 33.5 457.0 33.6 457.5 33.8 458.0 33.9 458.5 34.0 459.0 34.2 459.5 34.3 460.0 34.5 460.5 34.6 461.0 34.8 461.5 35.0 462.0 35.1 462.5 35.3 463.0 35.5 463.5 35.7 464.0 35.9 464.5 36.1 465.0 36.3 465.5 36.5 466.0 36.7 466.5 36.9 467.0 37.2 467.5 37.4 468.0 37.6 468.5 37.9 469.0 38.1 469.5 38.4 470.0 38.7 470.5 38.9 471.0 39.2 471.5 39.5 472.0 39.8 472.5 40.1 473.0 40.4 473.5 40.7 474.0 41.0 474.5 41.3 475.0 41.6 475.5 42.0 476.0 42.3 476.5 42.6 477.0 43.0 477.5 43.4 478.0 43.7 478.5 44.1 479.0 44.5 479.5 44.8 480.0 45.2 480.5 45.6 481.0 46.0 481.5 46.4 482.0 46.8 482.5 47.3 483.0 47.7 483.5 48.1 484.0 48.6 484.5 49.0 485.0 49.5 485.5 49.9 486.0 50.4 486.5 50.8 487.0 51.3 487.5 51.8 488.0 52.3 488.5 52.8 489.0 53.3 489.5 53.8 490.0 54.3 490.5 54.8 491.0 55.4 491.5 55.9 492.0 56.5 492.5 57.0 493.0 57.6 493.5 58.1 494.0 58.7 494.5 59.3 495.0 59.8 495.5 60.4 496.0 61.0 496.5 61.6 497.0 62.2 497.5 62.8 498.0 63.4 498.5 64.1 499.0 64.7 499.5 65.3 500.0 66.0 500.5 66.6 501.0 67.3 501.5 67.9 502.0 68.6 502.5 69.2 503.0 69.9 503.5 70.6 504.0 71.3 504.5 72.0 505.0 72.6 505.5 73.3 506.0 74.1 506.5 74.8 507.0 75.5 507.5 76.2 508.0 76.9 508.5 77.6 509.0 78.4 509.5 79.1 510.0 79.9 510.5 80.6 511.0 81.3 511.5 82.1 512.0 82.9 512.5 83.6 513.0 84.4 513.5 85.2 514.0 85.9 514.5 86.7 515.0 87.5 515.5 88.3 516.0 89.0 516.5 89.8 517.0 90.6 517.5 91.4 518.0 92.2 518.5 93.0 519.0 93.8 519.5 94.6 520.0 95.4 520.5 96.2 521.0 97.0 521.5 97.9 522.0 98.7 522.5 99.5 523.0 100.3 523.5 101.1 524.0 101.9 524.5 102.8 525.0 103.6 525.5 104.4 526.0 105.2 526.5 106.1 527.0 106.9 527.5 107.7 528.0 108.5 528.5 109.4 529.0 110.2 529.5 111.0 530.0 111.8 530.5 112.7 531.0 113.5 531.5 114.3 532.0 115.1 532.5 115.9 533.0 116.8 533.5 117.6 534.0 118.4 534.5 119.2 535.0 120.0 535.5 120.9 536.0 121.7 536.5 122.5 537.0 123.3 537.5 124.1 538.0 124.9 538.5 125.7 539.0 126.5 539.5 127.3 540.0 128.1 540.5 128.9 541.0 129.7 541.5 130.4 542.0 131.2 542.5 132.0 543.0 132.8 543.5 133.5 544.0 134.3 544.5 135.1 545.0 135.8 545.5 136.6 546.0 137.3 546.5 138.1 547.0 138.8 547.5 139.6 548.0 140.3 548.5 141.0 549.0 141.8 549.5 142.5 550.0 143.2 550.5 143.9 551.0 144.6 551.5 145.3 552.0 146.0 552.5 146.7 553.0 147.4 553.5 148.1 554.0 148.8 554.5 149.5 555.0 150.1 555.5 150.8 556.0 151.4 556.5 152.1 557.0 152.7 557.5 153.4 558.0 154.0 558.5 154.7 559.0 155.3 559.5 155.9 560.0 156.5 560.5 157.1 561.0 157.7 561.5 158.3 562.0 158.9 562.5 159.5 563.0 160.1 563.5 160.7 564.0 161.2 564.5 161.8 565.0 162.3 565.5 162.9 566.0 163.4 566.5 164.0 567.0 164.5 567.5 165.0 568.0 165.6 568.5 166.1 569.0 166.6 569.5 167.1 570.0 167.6 570.5 168.1 571.0 168.6 571.5 169.1 572.0 169.5 572.5 170.0 573.0 170.5 573.5 170.9 574.0 171.4 574.5 171.8 575.0 172.3 575.5 172.7 576.0 173.2 576.5 173.6 577.0 174.0 577.5 174.4 578.0 174.8 578.5 175.2 579.0 175.6 579.5 176.0 580.0 176.4 580.5 176.8 581.0 177.2 581.5 177.6 582.0 178.0 582.5 178.3 583.0 178.7 583.5 179.1 584.0 179.4 584.5 179.8 585.0 180.1 585.5 180.5 586.0 180.8 586.5 181.1 587.0 181.5 587.5 181.8 588.0 182.1 588.5 182.4 589.0 182.7 589.5 183.1 590.0 183.4 590.5 183.7 591.0 184.0 591.5 184.3 592.0 184.6 592.5 184.9 593.0 185.2 593.5 185.4 594.0 185.7 594.5 186.0 595.0 186.3 595.5 186.6 596.0 186.8 596.5 187.1 597.0 187.4 597.5 187.6 598.0 187.9 598.5 188.2 599.0 188.4 599.5 188.7 600.0 188.9 600.5 189.2 601.0 189.4 601.5 189.7 602.0 189.9 602.5 190.2 603.0 190.4 603.5 190.6 604.0 190.9 604.5 191.1 605.0 191.4 605.5 191.6 606.0 191.8 606.5 192.1 607.0 192.3 607.5 192.5 608.0 192.8 608.5 193.0 609.0 193.2 609.5 193.5 610.0 193.7 610.5 193.9 611.0 194.1 611.5 194.4 612.0 194.6 612.5 194.8 613.0 195.1 613.5 195.3 614.0 195.5 614.5 195.7 615.0 196.0 615.5 196.2 616.0 196.4 616.5 196.6 617.0 196.9 617.5 197.1 618.0 197.3 618.5 197.5 619.0 197.8 619.5 198.0 620.0 198.2 620.5 198.5 621.0 198.7 621.5 198.9 622.0 199.1 622.5 199.4 623.0 199.6 623.5 199.8 624.0 200.1 624.5 200.3 625.0 200.5 625.5 200.8 626.0 201.0 626.5 201.3 627.0 201.5 627.5 201.7 628.0 202.0 628.5 202.2 629.0 202.5 629.5 202.7 630.0 202.9 630.5 203.2 631.0 203.4 631.5 203.7 632.0 203.9 632.5 204.2 633.0 204.4 633.5 204.7 634.0 205.0 634.5 205.2 635.0 205.5 635.5 205.7 636.0 206.0 636.5 206.2 637.0 206.5 637.5 206.8 638.0 207.0 638.5 207.3 639.0 207.6 639.5 207.8 640.0 208.1 640.5 208.4 641.0 208.7 641.5 208.9 642.0 209.2 642.5 209.5 643.0 209.8 643.5 210.0 644.0 210.3 644.5 210.6 645.0 210.9 645.5 211.2 646.0 211.5 646.5 211.7 647.0 212.0 647.5 212.3 648.0 212.6 648.5 212.9 649.0 213.2 649.5 213.5 650.0 213.8 650.5 214.1 651.0 214.4 651.5 214.7 652.0 215.0 652.5 215.3 653.0 215.6 653.5 215.9 654.0 216.2 654.5 216.5 655.0 216.8 655.5 217.1 656.0 217.4 656.5 217.7 657.0 218.0 657.5 218.3 658.0 218.7 658.5 219.0 659.0 219.3 659.5 219.6 660.0 219.9 660.5 220.2 661.0 220.5 661.5 220.9 662.0 221.2 662.5 221.5 663.0 221.8 663.5 222.1 664.0 222.5 664.5 222.8 665.0 223.1 665.5 223.4 666.0 223.7 666.5 224.1 667.0 224.4 667.5 224.7 668.0 225.0 668.5 225.4 669.0 225.7 669.5 226.0 670.0 226.3 670.5 226.7 671.0 227.0 671.5 227.3 672.0 227.7 672.5 228.0 673.0 228.3 673.5 228.6 674.0 229.0 674.5 229.3 675.0 229.6 675.5 229.9 676.0 230.3 676.5 230.6 677.0 230.9 677.5 231.2 678.0 231.6 678.5 231.9 679.0 232.2 679.5 232.6 680.0 232.9 680.5 233.2 681.0 233.5 681.5 233.9 682.0 234.2 682.5 234.5 683.0 234.8 683.5 235.1 684.0 235.5 684.5 235.8 685.0 236.1 685.5 236.4 686.0 236.8 686.5 237.1 687.0 237.4 687.5 237.7 688.0 238.0 688.5 238.3 689.0 238.7 689.5 239.0 690.0 239.3 690.5 239.6 691.0 239.9 691.5 240.2 692.0 240.5 692.5 240.8 693.0 241.2 693.5 241.5 694.0 241.8 694.5 242.1 695.0 242.4 695.5 242.7 696.0 243.0 696.5 243.3 697.0 243.6 697.5 243.9 698.0 244.2 698.5 244.5 699.0 244.8 699.5 245.1 700.0 245.4 700.5 245.7 701.0 246.0 701.5 246.3 702.0 246.5 702.5 246.8 703.0 247.1 703.5 247.4 704.0 247.7 704.5 248.0 705.0 248.3 705.5 248.5 706.0 248.8 706.5 249.1 707.0 249.4 707.5 249.6 708.0 249.9 708.5 250.2 709.0 250.5 709.5 250.7 710.0 251.0 710.5 251.3 711.0 251.5 711.5 251.8 712.0 252.0 712.5 252.3 713.0 252.6 713.5 252.8 714.0 253.1 714.5 253.3 715.0 253.6 715.5 253.8 716.0 254.1 716.5 254.3 717.0 254.6 717.5 254.8 718.0 255.1 718.5 255.3 719.0 255.5 719.5 255.8 720.0 256.0 720.5 256.3 721.0 256.5 721.5 256.7 722.0 257.0 722.5 257.2 723.0 257.4 723.5 257.6 724.0 257.9 724.5 258.1 725.0 258.3 725.5 258.5 726.0 258.7 726.5 259.0 727.0 259.2 727.5 259.4 728.0 259.6 728.5 259.8 729.0 260.0 729.5 260.2 730.0 260.4 730.5 260.6 731.0 260.8 731.5 261.0 732.0 261.2 732.5 261.4 733.0 261.6 733.5 261.8 734.0 262.0 734.5 262.2 735.0 262.4 735.5 262.6 736.0 262.7 736.5 262.9 737.0 263.1 737.5 263.3 738.0 263.5 738.5 263.6 739.0 263.8 739.5 264.0 740.0 264.2 740.5 264.3 741.0 264.5 741.5 264.7 742.0 264.8 742.5 265.0 743.0 265.2 743.5 265.3 744.0 265.5 744.5 265.6 745.0 265.8 745.5 266.0 746.0 266.1 746.5 266.3 L746.50 276.30 L88.00 276.30 Z" fill="rgb(141,200,208)"/>
<g clip-path="url(#ct)"><line x1="104.58" y1="8" x2="104.58" y2="543.6" stroke="rgb(125,183,192)" stroke-width="1.00"/><line x1="176.85" y1="8" x2="176.85" y2="543.6" stroke="rgb(125,183,192)" stroke-width="1.00"/><line x1="249.12" y1="8" x2="249.12" y2="543.6" stroke="rgb(125,183,192)" stroke-width="1.00"/><line x1="321.39" y1="8" x2="321.39" y2="543.6" stroke="rgb(125,183,192)" stroke-width="1.00"/><line x1="393.66" y1="8" x2="393.66" y2="543.6" stroke="rgb(125,183,192)" stroke-width="1.00"/><line x1="465.93" y1="8" x2="465.93" y2="543.6" stroke="rgb(125,183,192)" stroke-width="1.00"/><line x1="538.20" y1="8" x2="538.20" y2="543.6" stroke="rgb(125,183,192)" stroke-width="1.00"/><line x1="610.47" y1="8" x2="610.47" y2="543.6" stroke="rgb(125,183,192)" stroke-width="1.00"/><line x1="682.74" y1="8" x2="682.74" y2="543.6" stroke="rgb(125,183,192)" stroke-width="1.00"/></g>
<path d="M88.0 263.5 88.5 263.3 89.0 263.1 89.5 262.9 90.0 262.7 90.5 262.5 91.0 262.3 91.5 262.1 92.0 261.9 92.5 261.7 93.0 261.5 93.5 261.3 94.0 261.1 94.5 260.9 95.0 260.7 95.5 260.4 96.0 260.2 96.5 260.0 97.0 259.8 97.5 259.6 98.0 259.3 98.5 259.1 99.0 258.9 99.5 258.7 100.0 258.4 100.5 258.2 101.0 258.0 101.5 257.7 102.0 257.5 102.5 257.2 103.0 257.0 103.5 256.8 104.0 256.5 104.5 256.3 105.0 256.0 105.5 255.8 106.0 255.5 106.5 255.3 107.0 255.0 107.5 254.8 108.0 254.5 108.5 254.3 109.0 254.0 109.5 253.7 110.0 253.5 110.5 253.2 111.0 252.9 111.5 252.7 112.0 252.4 112.5 252.1 113.0 251.9 113.5 251.6 114.0 251.3 114.5 251.0 115.0 250.8 115.5 250.5 116.0 250.2 116.5 249.9 117.0 249.6 117.5 249.3 118.0 249.1 118.5 248.8 119.0 248.5 119.5 248.2 120.0 247.9 120.5 247.6 121.0 247.3 121.5 247.0 122.0 246.7 122.5 246.4 123.0 246.1 123.5 245.8 124.0 245.5 124.5 245.2 125.0 244.9 125.5 244.6 126.0 244.3 126.5 244.0 127.0 243.7 127.5 243.3 128.0 243.0 128.5 242.7 129.0 242.4 129.5 242.1 130.0 241.8 130.5 241.4 131.0 241.1 131.5 240.8 132.0 240.5 132.5 240.2 133.0 239.8 133.5 239.5 134.0 239.2 134.5 238.8 135.0 238.5 135.5 238.2 136.0 237.9 136.5 237.5 137.0 237.2 137.5 236.9 138.0 236.5 138.5 236.2 139.0 235.8 139.5 235.5 140.0 235.2 140.5 234.8 141.0 234.5 141.5 234.1 142.0 233.8 142.5 233.4 143.0 233.1 143.5 232.8 144.0 232.4 144.5 232.1 145.0 231.7 145.5 231.4 146.0 231.0 146.5 230.7 147.0 230.3 147.5 230.0 148.0 229.6 148.5 229.3 149.0 228.9 149.5 228.6 150.0 228.2 150.5 227.8 151.0 227.5 151.5 227.1 152.0 226.8 152.5 226.4 153.0 226.1 153.5 225.7 154.0 225.3 154.5 225.0 155.0 224.6 155.5 224.3 156.0 223.9 156.5 223.6 157.0 223.2 157.5 222.8 158.0 222.5 158.5 222.1 159.0 221.7 159.5 221.4 160.0 221.0 160.5 220.7 161.0 220.3 161.5 219.9 162.0 219.6 162.5 219.2 163.0 218.9 163.5 218.5 164.0 218.1 164.5 217.8 165.0 217.4 165.5 217.0 166.0 216.7 166.5 216.3 167.0 216.0 167.5 215.6 168.0 215.2 168.5 214.9 169.0 214.5 169.5 214.2 170.0 213.8 170.5 213.4 171.0 213.1 171.5 212.7 172.0 212.4 172.5 212.0 173.0 211.6 173.5 211.3 174.0 210.9 174.5 210.6 175.0 210.2 175.5 209.9 176.0 209.5 176.5 209.1 177.0 208.8 177.5 208.4 178.0 208.1 178.5 207.7 179.0 207.4 179.5 207.0 180.0 206.7 180.5 206.3 181.0 206.0 181.5 205.6 182.0 205.3 182.5 204.9 183.0 204.6 183.5 204.2 184.0 203.9 184.5 203.5 185.0 203.2 185.5 202.8 186.0 202.5 186.5 202.1 187.0 201.8 187.5 201.4 188.0 201.1 188.5 200.7 189.0 200.4 189.5 200.1 190.0 199.7 190.5 199.4 191.0 199.0 191.5 198.7 192.0 198.3 192.5 198.0 193.0 197.7 193.5 197.3 194.0 197.0 194.5 196.6 195.0 196.3 195.5 196.0 196.0 195.6 196.5 195.3 197.0 195.0 197.5 194.6 198.0 194.3 198.5 194.0 199.0 193.6 199.5 193.3 200.0 192.9 200.5 192.6 201.0 192.3 201.5 191.9 202.0 191.6 202.5 191.3 203.0 190.9 203.5 190.6 204.0 190.3 204.5 189.9 205.0 189.6 205.5 189.3 206.0 188.9 206.5 188.6 207.0 188.2 207.5 187.9 208.0 187.6 208.5 187.2 209.0 186.9 209.5 186.6 210.0 186.2 210.5 185.9 211.0 185.5 211.5 185.2 212.0 184.9 212.5 184.5 213.0 184.2 213.5 183.8 214.0 183.5 214.5 183.2 215.0 182.8 215.5 182.5 216.0 182.1 216.5 181.8 217.0 181.4 217.5 181.1 218.0 180.7 218.5 180.4 219.0 180.0 219.5 179.7 220.0 179.3 220.5 179.0 221.0 178.6 221.5 178.3 222.0 177.9 222.5 177.5 223.0 177.2 223.5 176.8 224.0 176.5 224.5 176.1 225.0 175.7 225.5 175.4 226.0 175.0 226.5 174.6 227.0 174.2 227.5 173.9 228.0 173.5 228.5 173.1 229.0 172.7 229.5 172.4 230.0 172.0 230.5 171.6 231.0 171.2 231.5 170.8 232.0 170.4 232.5 170.0 233.0 169.6 233.5 169.3 234.0 168.9 234.5 168.5 235.0 168.1 235.5 167.7 236.0 167.2 236.5 166.8 237.0 166.4 237.5 166.0 238.0 165.6 238.5 165.2 239.0 164.8 239.5 164.4 240.0 163.9 240.5 163.5 241.0 163.1 241.5 162.7 242.0 162.2 242.5 161.8 243.0 161.4 243.5 161.0 244.0 160.5 244.5 160.1 245.0 159.6 245.5 159.2 246.0 158.8 246.5 158.3 247.0 157.9 247.5 157.4 248.0 157.0 248.5 156.5 249.0 156.1 249.5 155.6 250.0 155.2 250.5 154.7 251.0 154.2 251.5 153.8 252.0 153.3 252.5 152.9 253.0 152.4 253.5 151.9 254.0 151.5 254.5 151.0 255.0 150.5 255.5 150.0 256.0 149.6 256.5 149.1 257.0 148.6 257.5 148.1 258.0 147.7 258.5 147.2 259.0 146.7 259.5 146.2 260.0 145.7 260.5 145.3 261.0 144.8 261.5 144.3 262.0 143.8 262.5 143.3 263.0 142.8 263.5 142.3 264.0 141.9 264.5 141.4 265.0 140.9 265.5 140.4 266.0 139.9 266.5 139.4 267.0 138.9 267.5 138.4 268.0 138.0 268.5 137.5 269.0 137.0 269.5 136.5 270.0 136.0 270.5 135.5 271.0 135.0 271.5 134.5 272.0 134.1 272.5 133.6 273.0 133.1 273.5 132.6 274.0 132.1 274.5 131.6 275.0 131.1 275.5 130.7 276.0 130.2 276.5 129.7 277.0 129.2 277.5 128.7 278.0 128.3 278.5 127.8 279.0 127.3 279.5 126.9 280.0 126.4 280.5 125.9 281.0 125.4 281.5 125.0 282.0 124.5 282.5 124.0 283.0 123.6 283.5 123.1 284.0 122.7 284.5 122.2 285.0 121.8 285.5 121.3 286.0 120.9 286.5 120.4 287.0 120.0 287.5 119.5 288.0 119.1 288.5 118.6 289.0 118.2 289.5 117.8 290.0 117.3 290.5 116.9 291.0 116.5 291.5 116.0 292.0 115.6 292.5 115.2 293.0 114.8 293.5 114.4 294.0 114.0 294.5 113.5 295.0 113.1 295.5 112.7 296.0 112.3 296.5 111.9 297.0 111.5 297.5 111.1 298.0 110.7 298.5 110.3 299.0 110.0 299.5 109.6 300.0 109.2 300.5 108.8 301.0 108.4 301.5 108.1 302.0 107.7 302.5 107.3 303.0 107.0 303.5 106.6 304.0 106.2 304.5 105.9 305.0 105.5 305.5 105.2 306.0 104.8 306.5 104.5 307.0 104.1 307.5 103.8 308.0 103.4 308.5 103.1 309.0 102.8 309.5 102.4 310.0 102.1 310.5 101.8 311.0 101.5 311.5 101.1 312.0 100.8 312.5 100.5 313.0 100.2 313.5 99.9 314.0 99.6 314.5 99.2 315.0 98.9 315.5 98.6 316.0 98.3 316.5 98.0 317.0 97.7 317.5 97.4 318.0 97.1 318.5 96.9 319.0 96.6 319.5 96.3 320.0 96.0 320.5 95.7 321.0 95.4 321.5 95.1 322.0 94.9 322.5 94.6 323.0 94.3 323.5 94.0 324.0 93.8 324.5 93.5 325.0 93.2 325.5 92.9 326.0 92.7 326.5 92.4 327.0 92.1 327.5 91.9 328.0 91.6 328.5 91.4 329.0 91.1 329.5 90.8 330.0 90.6 330.5 90.3 331.0 90.1 331.5 89.8 332.0 89.5 332.5 89.3 333.0 89.0 333.5 88.8 334.0 88.5 334.5 88.3 335.0 88.0 335.5 87.8 336.0 87.5 336.5 87.2 337.0 87.0 337.5 86.7 338.0 86.5 338.5 86.2 339.0 86.0 339.5 85.7 340.0 85.5 340.5 85.2 341.0 85.0 341.5 84.7 342.0 84.4 342.5 84.2 343.0 83.9 343.5 83.7 344.0 83.4 344.5 83.2 345.0 82.9 345.5 82.6 346.0 82.4 346.5 82.1 347.0 81.8 347.5 81.6 348.0 81.3 348.5 81.0 349.0 80.8 349.5 80.5 350.0 80.2 350.5 80.0 351.0 79.7 351.5 79.4 352.0 79.2 352.5 78.9 353.0 78.6 353.5 78.3 354.0 78.0 354.5 77.8 355.0 77.5 355.5 77.2 356.0 76.9 356.5 76.6 357.0 76.3 357.5 76.1 358.0 75.8 358.5 75.5 359.0 75.2 359.5 74.9 360.0 74.6 360.5 74.3 361.0 74.0 361.5 73.7 362.0 73.4 362.5 73.1 363.0 72.8 363.5 72.5 364.0 72.2 364.5 71.9 365.0 71.6 365.5 71.3 366.0 70.9 366.5 70.6 367.0 70.3 367.5 70.0 368.0 69.7 368.5 69.4 369.0 69.0 369.5 68.7 370.0 68.4 370.5 68.1 371.0 67.7 371.5 67.4 372.0 67.1 372.5 66.8 373.0 66.4 373.5 66.1 374.0 65.8 374.5 65.4 375.0 65.1 375.5 64.8 376.0 64.4 376.5 64.1 377.0 63.8 377.5 63.4 378.0 63.1 378.5 62.7 379.0 62.4 379.5 62.1 380.0 61.7 380.5 61.4 381.0 61.0 381.5 60.7 382.0 60.3 382.5 60.0 383.0 59.7 383.5 59.3 384.0 59.0 384.5 58.6 385.0 58.3 385.5 57.9 386.0 57.6 386.5 57.2 387.0 56.9 387.5 56.6 388.0 56.2 388.5 55.9 389.0 55.5 389.5 55.2 390.0 54.8 390.5 54.5 391.0 54.2 391.5 53.8 392.0 53.5 392.5 53.1 393.0 52.8 393.5 52.5 394.0 52.1 394.5 51.8 395.0 51.5 395.5 51.1 396.0 50.8 396.5 50.5 397.0 50.2 397.5 49.8 398.0 49.5 398.5 49.2 399.0 48.9 399.5 48.5 400.0 48.2 400.5 47.9 401.0 47.6 401.5 47.3 402.0 47.0 402.5 46.6 403.0 46.3 403.5 46.0 404.0 45.7 404.5 45.4 405.0 45.1 405.5 44.8 406.0 44.5 406.5 44.2 407.0 44.0 407.5 43.7 408.0 43.4 408.5 43.1 409.0 42.8 409.5 42.5 410.0 42.3 410.5 42.0 411.0 41.7 411.5 41.5 412.0 41.2 412.5 40.9 413.0 40.7 413.5 40.4 414.0 40.2 414.5 39.9 415.0 39.7 415.5 39.5 416.0 39.2 416.5 39.0 417.0 38.8 417.5 38.5 418.0 38.3 418.5 38.1 419.0 37.9 419.5 37.7 420.0 37.4 420.5 37.2 421.0 37.0 421.5 36.8 422.0 36.6 422.5 36.5 423.0 36.3 423.5 36.1 424.0 35.9 424.5 35.7 425.0 35.6 425.5 35.4 426.0 35.2 426.5 35.1 427.0 34.9 427.5 34.8 428.0 34.6 428.5 34.5 429.0 34.3 429.5 34.2 430.0 34.1 430.5 33.9 431.0 33.8 431.5 33.7 432.0 33.6 432.5 33.5 433.0 33.4 433.5 33.3 434.0 33.2 434.5 33.1 435.0 33.0 435.5 32.9 436.0 32.8 436.5 32.7 437.0 32.7 437.5 32.6 438.0 32.5 438.5 32.5 439.0 32.4 439.5 32.4 440.0 32.3 440.5 32.3 441.0 32.3 441.5 32.2 442.0 32.2 442.5 32.2 443.0 32.2 443.5 32.1 444.0 32.1 444.5 32.1 445.0 32.1 445.5 32.1 446.0 32.2 446.5 32.2 447.0 32.2 447.5 32.2 448.0 32.2 448.5 32.3 449.0 32.3 449.5 32.4 450.0 32.4 450.5 32.5 451.0 32.5 451.5 32.6 452.0 32.7 452.5 32.7 453.0 32.8 453.5 32.9 454.0 33.0 454.5 33.1 455.0 33.2 455.5 33.3 456.0 33.4 456.5 33.5 457.0 33.6 457.5 33.8 458.0 33.9 458.5 34.0 459.0 34.2 459.5 34.3 460.0 34.5 460.5 34.6 461.0 34.8 461.5 35.0 462.0 35.1 462.5 35.3 463.0 35.5 463.5 35.7 464.0 35.9 464.5 36.1 465.0 36.3 465.5 36.5 466.0 36.7 466.5 36.9 467.0 37.2 467.5 37.4 468.0 37.6 468.5 37.9 469.0 38.1 469.5 38.4 470.0 38.7 470.5 38.9 471.0 39.2 471.5 39.5 472.0 39.8 472.5 40.1 473.0 40.4 473.5 40.7 474.0 41.0 474.5 41.3 475.0 41.6 475.5 42.0 476.0 42.3 476.5 42.6 477.0 43.0 477.5 43.4 478.0 43.7 478.5 44.1 479.0 44.5 479.5 44.8 480.0 45.2 480.5 45.6 481.0 46.0 481.5 46.4 482.0 46.8 482.5 47.3 483.0 47.7 483.5 48.1 484.0 48.6 484.5 49.0 485.0 49.5 485.5 49.9 486.0 50.4 486.5 50.8 487.0 51.3 487.5 51.8 488.0 52.3 488.5 52.8 489.0 53.3 489.5 53.8 490.0 54.3 490.5 54.8 491.0 55.4 491.5 55.9 492.0 56.5 492.5 57.0 493.0 57.6 493.5 58.1 494.0 58.7 494.5 59.3 495.0 59.8 495.5 60.4 496.0 61.0 496.5 61.6 497.0 62.2 497.5 62.8 498.0 63.4 498.5 64.1 499.0 64.7 499.5 65.3 500.0 66.0 500.5 66.6 501.0 67.3 501.5 67.9 502.0 68.6 502.5 69.2 503.0 69.9 503.5 70.6 504.0 71.3 504.5 72.0 505.0 72.6 505.5 73.3 506.0 74.1 506.5 74.8 507.0 75.5 507.5 76.2 508.0 76.9 508.5 77.6 509.0 78.4 509.5 79.1 510.0 79.9 510.5 80.6 511.0 81.3 511.5 82.1 512.0 82.9 512.5 83.6 513.0 84.4 513.5 85.2 514.0 85.9 514.5 86.7 515.0 87.5 515.5 88.3 516.0 89.0 516.5 89.8 517.0 90.6 517.5 91.4 518.0 92.2 518.5 93.0 519.0 93.8 519.5 94.6 520.0 95.4 520.5 96.2 521.0 97.0 521.5 97.9 522.0 98.7 522.5 99.5 523.0 100.3 523.5 101.1 524.0 101.9 524.5 102.8 525.0 103.6 525.5 104.4 526.0 105.2 526.5 106.1 527.0 106.9 527.5 107.7 528.0 108.5 528.5 109.4 529.0 110.2 529.5 111.0 530.0 111.8 530.5 112.7 531.0 113.5 531.5 114.3 532.0 115.1 532.5 115.9 533.0 116.8 533.5 117.6 534.0 118.4 534.5 119.2 535.0 120.0 535.5 120.9 536.0 121.7 536.5 122.5 537.0 123.3 537.5 124.1 538.0 124.9 538.5 125.7 539.0 126.5 539.5 127.3 540.0 128.1 540.5 128.9 541.0 129.7 541.5 130.4 542.0 131.2 542.5 132.0 543.0 132.8 543.5 133.5 544.0 134.3 544.5 135.1 545.0 135.8 545.5 136.6 546.0 137.3 546.5 138.1 547.0 138.8 547.5 139.6 548.0 140.3 548.5 141.0 549.0 141.8 549.5 142.5 550.0 143.2 550.5 143.9 551.0 144.6 551.5 145.3 552.0 146.0 552.5 146.7 553.0 147.4 553.5 148.1 554.0 148.8 554.5 149.5 555.0 150.1 555.5 150.8 556.0 151.4 556.5 152.1 557.0 152.7 557.5 153.4 558.0 154.0 558.5 154.7 559.0 155.3 559.5 155.9 560.0 156.5 560.5 157.1 561.0 157.7 561.5 158.3 562.0 158.9 562.5 159.5 563.0 160.1 563.5 160.7 564.0 161.2 564.5 161.8 565.0 162.3 565.5 162.9 566.0 163.4 566.5 164.0 567.0 164.5 567.5 165.0 568.0 165.6 568.5 166.1 569.0 166.6 569.5 167.1 570.0 167.6 570.5 168.1 571.0 168.6 571.5 169.1 572.0 169.5 572.5 170.0 573.0 170.5 573.5 170.9 574.0 171.4 574.5 171.8 575.0 172.3 575.5 172.7 576.0 173.2 576.5 173.6 577.0 174.0 577.5 174.4 578.0 174.8 578.5 175.2 579.0 175.6 579.5 176.0 580.0 176.4 580.5 176.8 581.0 177.2 581.5 177.6 582.0 178.0 582.5 178.3 583.0 178.7 583.5 179.1 584.0 179.4 584.5 179.8 585.0 180.1 585.5 180.5 586.0 180.8 586.5 181.1 587.0 181.5 587.5 181.8 588.0 182.1 588.5 182.4 589.0 182.7 589.5 183.1 590.0 183.4 590.5 183.7 591.0 184.0 591.5 184.3 592.0 184.6 592.5 184.9 593.0 185.2 593.5 185.4 594.0 185.7 594.5 186.0 595.0 186.3 595.5 186.6 596.0 186.8 596.5 187.1 597.0 187.4 597.5 187.6 598.0 187.9 598.5 188.2 599.0 188.4 599.5 188.7 600.0 188.9 600.5 189.2 601.0 189.4 601.5 189.7 602.0 189.9 602.5 190.2 603.0 190.4 603.5 190.6 604.0 190.9 604.5 191.1 605.0 191.4 605.5 191.6 606.0 191.8 606.5 192.1 607.0 192.3 607.5 192.5 608.0 192.8 608.5 193.0 609.0 193.2 609.5 193.5 610.0 193.7 610.5 193.9 611.0 194.1 611.5 194.4 612.0 194.6 612.5 194.8 613.0 195.1 613.5 195.3 614.0 195.5 614.5 195.7 615.0 196.0 615.5 196.2 616.0 196.4 616.5 196.6 617.0 196.9 617.5 197.1 618.0 197.3 618.5 197.5 619.0 197.8 619.5 198.0 620.0 198.2 620.5 198.5 621.0 198.7 621.5 198.9 622.0 199.1 622.5 199.4 623.0 199.6 623.5 199.8 624.0 200.1 624.5 200.3 625.0 200.5 625.5 200.8 626.0 201.0 626.5 201.3 627.0 201.5 627.5 201.7 628.0 202.0 628.5 202.2 629.0 202.5 629.5 202.7 630.0 202.9 630.5 203.2 631.0 203.4 631.5 203.7 632.0 203.9 632.5 204.2 633.0 204.4 633.5 204.7 634.0 205.0 634.5 205.2 635.0 205.5 635.5 205.7 636.0 206.0 636.5 206.2 637.0 206.5 637.5 206.8 638.0 207.0 638.5 207.3 639.0 207.6 639.5 207.8 640.0 208.1 640.5 208.4 641.0 208.7 641.5 208.9 642.0 209.2 642.5 209.5 643.0 209.8 643.5 210.0 644.0 210.3 644.5 210.6 645.0 210.9 645.5 211.2 646.0 211.5 646.5 211.7 647.0 212.0 647.5 212.3 648.0 212.6 648.5 212.9 649.0 213.2 649.5 213.5 650.0 213.8 650.5 214.1 651.0 214.4 651.5 214.7 652.0 215.0 652.5 215.3 653.0 215.6 653.5 215.9 654.0 216.2 654.5 216.5 655.0 216.8 655.5 217.1 656.0 217.4 656.5 217.7 657.0 218.0 657.5 218.3 658.0 218.7 658.5 219.0 659.0 219.3 659.5 219.6 660.0 219.9 660.5 220.2 661.0 220.5 661.5 220.9 662.0 221.2 662.5 221.5 663.0 221.8 663.5 222.1 664.0 222.5 664.5 222.8 665.0 223.1 665.5 223.4 666.0 223.7 666.5 224.1 667.0 224.4 667.5 224.7 668.0 225.0 668.5 225.4 669.0 225.7 669.5 226.0 670.0 226.3 670.5 226.7 671.0 227.0 671.5 227.3 672.0 227.7 672.5 228.0 673.0 228.3 673.5 228.6 674.0 229.0 674.5 229.3 675.0 229.6 675.5 229.9 676.0 230.3 676.5 230.6 677.0 230.9 677.5 231.2 678.0 231.6 678.5 231.9 679.0 232.2 679.5 232.6 680.0 232.9 680.5 233.2 681.0 233.5 681.5 233.9 682.0 234.2 682.5 234.5 683.0 234.8 683.5 235.1 684.0 235.5 684.5 235.8 685.0 236.1 685.5 236.4 686.0 236.8 686.5 237.1 687.0 237.4 687.5 237.7 688.0 238.0 688.5 238.3 689.0 238.7 689.5 239.0 690.0 239.3 690.5 239.6 691.0 239.9 691.5 240.2 692.0 240.5 692.5 240.8 693.0 241.2 693.5 241.5 694.0 241.8 694.5 242.1 695.0 242.4 695.5 242.7 696.0 243.0 696.5 243.3 697.0 243.6 697.5 243.9 698.0 244.2 698.5 244.5 699.0 244.8 699.5 245.1 700.0 245.4 700.5 245.7 701.0 246.0 701.5 246.3 702.0 246.5 702.5 246.8 703.0 247.1 703.5 247.4 704.0 247.7 704.5 248.0 705.0 248.3 705.5 248.5 706.0 248.8 706.5 249.1 707.0 249.4 707.5 249.6 708.0 249.9 708.5 250.2 709.0 250.5 709.5 250.7 710.0 251.0 710.5 251.3 711.0 251.5 711.5 251.8 712.0 252.0 712.5 252.3 713.0 252.6 713.5 252.8 714.0 253.1 714.5 253.3 715.0 253.6 715.5 253.8 716.0 254.1 716.5 254.3 717.0 254.6 717.5 254.8 718.0 255.1 718.5 255.3 719.0 255.5 719.5 255.8 720.0 256.0 720.5 256.3 721.0 256.5 721.5 256.7 722.0 257.0 722.5 257.2 723.0 257.4 723.5 257.6 724.0 257.9 724.5 258.1 725.0 258.3 725.5 258.5 726.0 258.7 726.5 259.0 727.0 259.2 727.5 259.4 728.0 259.6 728.5 259.8 729.0 260.0 729.5 260.2 730.0 260.4 730.5 260.6 731.0 260.8 731.5 261.0 732.0 261.2 732.5 261.4 733.0 261.6 733.5 261.8 734.0 262.0 734.5 262.2 735.0 262.4 735.5 262.6 736.0 262.7 736.5 262.9 737.0 263.1 737.5 263.3 738.0 263.5 738.5 263.6 739.0 263.8 739.5 264.0 740.0 264.2 740.5 264.3 741.0 264.5 741.5 264.7 742.0 264.8 742.5 265.0 743.0 265.2 743.5 265.3 744.0 265.5 744.5 265.6 745.0 265.8 745.5 266.0 746.0 266.1 746.5 266.3" fill="none" stroke="#000" stroke-width="2.2"/>
<path d="M520.0 276.5 536.2 276.5 537.2 276.5 538.2 276.5 539.1 276.5 540.0 276.4 540.9 276.2 541.7 275.8 542.5 275.4 543.2 274.9 543.9 274.4 544.6 273.8 545.3 273.2 545.9 272.5 546.5 271.8 547.1 271.0 547.6 270.3 548.1 269.5 548.7 268.7 549.2 267.9 549.6 267.1 550.1 266.3 550.6 265.5 551.0 264.7 551.4 263.8 551.8 263.0 552.2 262.2 552.6 261.3 553.0 260.5 553.4 259.6 553.7 258.7 554.1 257.9 554.4 257.0 554.7 256.1 555.0 255.3 555.3 254.4 555.6 253.5 555.8 252.6 556.1 251.7 556.4 250.8 556.6 249.9 556.8 249.0 557.1 248.0 557.3 247.1 557.5 246.2 557.7 245.3 557.9 244.4 558.1 243.4 558.2 242.5 558.4 241.6 558.6 240.6 558.7 239.7 558.9 238.7 559.0 237.8 559.2 236.8 559.3 235.9 559.5 234.9 559.6 234.0 559.7 233.0 559.8 232.1 560.0 231.1 560.1 230.2 560.2 229.2 560.3 228.2 560.4 227.3 560.5 226.3 560.6 225.4 560.7 224.4 560.8 223.4 560.9 222.5 561.0 221.5 561.1 220.6 561.2 219.6 561.3 218.6 561.4 217.7 561.5 216.7 561.6 215.8 561.7 214.8 561.8 213.9 561.9 212.9 562.1 211.9 562.2 211.0 562.3 210.0 562.4 209.1 562.5 208.2 562.7 207.2 562.8 206.3 562.9 205.3 563.0 204.4 563.2 203.4 563.3 202.5 563.5 201.6 563.6 200.6 563.7 199.7 563.9 198.8 564.0 197.8 564.2 196.9 564.3 196.0 564.5 195.1 564.7 194.1 564.8 193.2 565.0 192.3 565.1 191.3 565.3 190.4 565.5 189.5 565.6 188.6 565.8 187.6 565.9 186.7 566.1 185.8 566.3 184.9 566.5 183.9 566.6 183.0 566.8 182.1 567.0 181.2 567.1 180.3 567.3 179.3 567.5 178.4 567.7 177.5 567.8 176.6 568.0 175.6 568.2 174.7 568.4 173.8 568.5 172.9 568.7 171.9 568.9 171.0 569.1 170.1 569.2 169.2 569.4 168.2 569.6 167.3 569.8 166.4 569.9 165.5 570.1 164.5 570.3 163.6 570.4 162.7 570.6 161.7 570.8 160.8 571.0 159.9 571.1 158.9 571.3 158.0 571.5 157.0 571.6 156.1 571.8 155.2 572.0 154.2 572.1 153.3 572.3 152.3 572.5 151.4 572.7 150.5 572.9 149.5 573.1 148.6 573.3 147.7 573.5 146.7 573.7 145.8 574.0 144.9 574.2 144.0 574.5 143.0 574.7 142.1 575.0 141.2 575.3 140.3 575.6 139.4 575.9 138.5 576.2 137.6 576.5 136.7 576.9 135.8 577.2 134.9 577.6 134.1 578.0 133.2 578.4 132.3 578.8 131.5 579.3 130.6 579.8 129.8 580.2 128.9 580.8 128.1 581.3 127.3 581.9 126.6 582.5 126.0 583.1 125.4 583.8 124.8 584.5 124.4 585.2 124.1 586.1 123.9 586.9 123.8 587.8 123.9 588.8 124.1 589.8 124.4 590.9 124.9 591.9 125.3 593.0 125.6 593.9 125.6 594.8 125.4 595.6 125.0 596.3 124.4 597.0 123.7 597.7 123.1 598.4 122.4 599.0 121.6 599.6 120.9 600.2 120.2 600.8 119.5 601.4 118.7 601.9 117.9 602.5 117.2 603.0 116.4 603.5 115.6 604.0 114.8 604.4 114.0 604.9 113.2 605.3 112.3 605.8 111.5 606.2 110.6 606.6 109.8 606.9 108.9 607.3 108.1 607.7 107.2 608.0 106.3 608.3 105.4 608.7 104.5 609.0 103.6 609.3 102.7 609.6 101.8 609.9 100.9 610.1 100.0 610.4 99.1 610.7 98.2 610.9 97.3 611.2 96.3 611.4 95.4 611.6 94.5 611.8 93.5 612.1 92.6 612.3 91.7 612.5 90.7 612.7 89.8 612.9 88.8 613.1 87.9 613.3 87.0 613.5 86.0 613.7 85.1 613.9 84.1 614.0 83.2 614.2 82.3 614.4 81.3 614.6 80.4 614.8 79.5 615.0 78.5 615.1 77.6 615.3 76.7 615.5 75.8 615.7 74.8 615.9 73.9 616.1 73.0 616.3 72.1 616.4 71.2 616.6 70.2 616.8 69.3 617.0 68.4 617.2 67.5 617.4 66.6 617.6 65.7 617.8 64.8 618.0 63.8 618.2 62.9 618.4 62.0 618.6 61.1 618.8 60.2 619.0 59.3 619.2 58.4 619.4 57.4 619.6 56.5 619.8 55.6 620.1 54.7 620.3 53.8 620.5 52.9 620.7 52.0 621.0 51.0 621.2 50.1 621.4 49.2 621.7 48.3 621.9 47.3 622.2 46.4 622.4 45.5 622.7 44.6 622.9 43.6 623.2 42.7 623.5 41.8 623.7 40.8 624.0 39.9 624.3 38.9 624.6 38.0 624.9 37.1 625.3 36.2 625.7 35.3 626.2 34.5 626.7 33.8 627.3 33.1 628.0 32.5 628.8 32.5 629.6 33.1 630.2 33.7 630.8 34.5 631.2 35.3 631.6 36.2 631.9 37.1 632.2 38.1 632.4 39.0 632.6 40.0 632.8 41.0 633.0 42.0 633.2 42.9 633.4 43.9 633.6 44.8 633.8 45.8 634.0 46.7 634.2 47.7 634.3 48.6 634.5 49.5 634.7 50.5 634.8 51.4 635.0 52.3 635.1 53.2 635.3 54.2 635.4 55.1 635.6 56.0 635.7 56.9 635.9 57.9 636.0 58.8 636.2 59.7 636.3 60.6 636.5 61.6 636.6 62.5 636.7 63.4 636.9 64.3 637.0 65.3 637.1 66.2 637.3 67.1 637.4 68.1 637.5 69.0 637.7 69.9 637.8 70.9 637.9 71.8 638.0 72.7 638.2 73.7 638.3 74.6 638.4 75.5 638.5 76.5 638.7 77.4 638.8 78.3 638.9 79.3 639.0 80.2 639.1 81.2 639.3 82.1 639.4 83.0 639.5 84.0 639.6 84.9 639.7 85.9 639.8 86.8 639.9 87.7 640.0 88.7 640.2 89.6 640.3 90.6 640.4 91.5 640.5 92.5 640.6 93.4 640.7 94.3 640.8 95.3 640.9 96.2 641.0 97.2 641.1 98.1 641.2 99.1 641.3 100.0 641.4 101.0 641.5 101.9 641.6 102.9 641.7 103.8 641.8 104.8 641.9 105.7 641.9 106.6 642.0 107.6 642.1 108.5 642.2 109.5 642.3 110.4 642.4 111.4 642.5 112.3 642.6 113.3 642.6 114.2 642.7 115.2 642.8 116.1 642.9 117.1 643.0 118.0 643.1 119.0 643.1 119.9 643.2 120.9 643.3 121.8 643.4 122.7 643.5 123.7 643.5 124.6 643.6 125.6 643.7 126.5 643.8 127.5 643.9 128.4 643.9 129.4 644.0 130.3 644.1 131.3 644.2 132.2 644.2 133.2 644.3 134.1 644.4 135.1 644.5 136.0 644.5 137.0 644.6 137.9 644.7 138.9 644.8 139.8 644.8 140.7 644.9 141.7 645.0 142.6 645.1 143.6 645.1 144.5 645.2 145.5 645.3 146.4 645.4 147.4 645.4 148.3 645.5 149.3 645.6 150.2 645.7 151.2 645.7 152.1 645.8 153.0 645.9 154.0 646.0 154.9 646.1 155.9 646.1 156.8 646.2 157.8 646.3 158.7 646.4 159.7 646.5 160.6 646.5 161.6 646.6 162.5 646.7 163.4 646.8 164.4 646.9 165.3 647.0 166.3 647.0 167.2 647.1 168.2 647.2 169.1 647.3 170.1 647.4 171.0 647.5 171.9 647.6 172.9 647.7 173.8 647.8 174.8 647.9 175.7 648.0 176.7 648.1 177.6 648.1 178.5 648.2 179.5 648.3 180.4 648.4 181.4 648.6 182.3 648.7 183.3 648.8 184.2 648.9 185.1 649.0 186.1 649.1 187.0 649.2 188.0 649.3 188.9 649.4 189.8 649.5 190.8 649.6 191.7 649.8 192.7 649.9 193.6 650.0 194.5 650.1 195.5 650.2 196.4 650.4 197.3 650.5 198.3 650.6 199.2 650.7 200.2 650.9 201.1 651.0 202.0 651.1 203.0 651.3 203.9 651.4 204.8 651.6 205.8 651.7 206.7 651.8 207.7 652.0 208.6 652.1 209.5 652.3 210.5 652.4 211.4 652.6 212.3 652.7 213.3 652.9 214.2 653.1 215.1 653.2 216.1 653.4 217.0 653.6 217.9 653.7 218.9 653.9 219.8 654.1 220.7 654.2 221.7 654.4 222.6 654.6 223.5 654.8 224.4 655.0 225.4 655.2 226.3 655.3 227.2 655.5 228.2 655.7 229.1 655.9 230.0 656.1 230.9 656.3 231.9 656.5 232.8 656.7 233.7 657.0 234.7 657.2 235.6 657.4 236.5 657.6 237.4 657.8 238.4 658.1 239.3 658.3 240.2 658.5 241.1 658.7 242.1 659.0 243.0 659.2 243.9 659.5 244.8 659.7 245.7 660.0 246.7 660.2 247.6 660.5 248.5 660.7 249.4 661.0 250.3 661.3 251.2 661.6 252.2 661.9 253.1 662.2 253.9 662.5 254.8 662.8 255.7 663.1 256.6 663.5 257.5 663.9 258.3 664.2 259.2 664.6 260.1 665.0 260.9 665.5 261.7 665.9 262.6 666.4 263.4 666.8 264.2 667.3 265.0 667.8 265.8 668.4 266.5 668.9 267.3 669.5 268.0 670.1 268.8 670.7 269.5 671.4 270.2 672.1 270.9 672.8 271.5 673.5 272.2 674.2 272.9 675.0 273.5 675.8 274.1 676.6 274.6 677.5 275.1 678.3 275.6 700.0 276.5 700.0 276.5 L700.00 276.30 L520.00 276.30 Z" fill="rgb(239,212,143)"/>
<g clip-path="url(#cy)"><path d="M520.0 276.5 536.2 276.5 537.2 276.5 538.2 276.5 539.1 276.5 540.0 276.4 540.9 276.2 541.7 275.8 542.5 275.4 543.2 274.9 543.9 274.4 544.6 273.8 545.3 273.2 545.9 272.5 546.5 271.8 547.1 271.0 547.6 270.3 548.1 269.5 548.7 268.7 549.2 267.9 549.6 267.1 550.1 266.3 550.6 265.5 551.0 264.7 551.4 263.8 551.8 263.0 552.2 262.2 552.6 261.3 553.0 260.5 553.4 259.6 553.7 258.7 554.1 257.9 554.4 257.0 554.7 256.1 555.0 255.3 555.3 254.4 555.6 253.5 555.8 252.6 556.1 251.7 556.4 250.8 556.6 249.9 556.8 249.0 557.1 248.0 557.3 247.1 557.5 246.2 557.7 245.3 557.9 244.4 558.1 243.4 558.2 242.5 558.4 241.6 558.6 240.6 558.7 239.7 558.9 238.7 559.0 237.8 559.2 236.8 559.3 235.9 559.5 234.9 559.6 234.0 559.7 233.0 559.8 232.1 560.0 231.1 560.1 230.2 560.2 229.2 560.3 228.2 560.4 227.3 560.5 226.3 560.6 225.4 560.7 224.4 560.8 223.4 560.9 222.5 561.0 221.5 561.1 220.6 561.2 219.6 561.3 218.6 561.4 217.7 561.5 216.7 561.6 215.8 561.7 214.8 561.8 213.9 561.9 212.9 562.1 211.9 562.2 211.0 562.3 210.0 562.4 209.1 562.5 208.2 562.7 207.2 562.8 206.3 562.9 205.3 563.0 204.4 563.2 203.4 563.3 202.5 563.5 201.6 563.6 200.6 563.7 199.7 563.9 198.8 564.0 197.8 564.2 196.9 564.3 196.0 564.5 195.1 564.7 194.1 564.8 193.2 565.0 192.3 565.1 191.3 565.3 190.4 565.5 189.5 565.6 188.6 565.8 187.6 565.9 186.7 566.1 185.8 566.3 184.9 566.5 183.9 566.6 183.0 566.8 182.1 567.0 181.2 567.1 180.3 567.3 179.3 567.5 178.4 567.7 177.5 567.8 176.6 568.0 175.6 568.2 174.7 568.4 173.8 568.5 172.9 568.7 171.9 568.9 171.0 569.1 170.1 569.2 169.2 569.4 168.2 569.6 167.3 569.8 166.4 569.9 165.5 570.1 164.5 570.3 163.6 570.4 162.7 570.6 161.7 570.8 160.8 571.0 159.9 571.1 158.9 571.3 158.0 571.5 157.0 571.6 156.1 571.8 155.2 572.0 154.2 572.1 153.3 572.3 152.3 572.5 151.4 572.7 150.5 572.9 149.5 573.1 148.6 573.3 147.7 573.5 146.7 573.7 145.8 574.0 144.9 574.2 144.0 574.5 143.0 574.7 142.1 575.0 141.2 575.3 140.3 575.6 139.4 575.9 138.5 576.2 137.6 576.5 136.7 576.9 135.8 577.2 134.9 577.6 134.1 578.0 133.2 578.4 132.3 578.8 131.5 579.3 130.6 579.8 129.8 580.2 128.9 580.8 128.1 581.3 127.3 581.9 126.6 582.5 126.0 583.1 125.4 583.8 124.8 584.5 124.4 585.2 124.1 586.1 123.9 586.9 123.8 587.8 123.9 588.8 124.1 589.8 124.4 590.9 124.9 591.9 125.3 593.0 125.6 593.9 125.6 594.8 125.4 595.6 125.0 596.3 124.4 597.0 123.7 597.7 123.1 598.4 122.4 599.0 121.6 599.6 120.9 600.2 120.2 600.8 119.5 601.4 118.7 601.9 117.9 602.5 117.2 603.0 116.4 603.5 115.6 604.0 114.8 604.4 114.0 604.9 113.2 605.3 112.3 605.8 111.5 606.2 110.6 606.6 109.8 606.9 108.9 607.3 108.1 607.7 107.2 608.0 106.3 608.3 105.4 608.7 104.5 609.0 103.6 609.3 102.7 609.6 101.8 609.9 100.9 610.1 100.0 610.4 99.1 610.7 98.2 610.9 97.3 611.2 96.3 611.4 95.4 611.6 94.5 611.8 93.5 612.1 92.6 612.3 91.7 612.5 90.7 612.7 89.8 612.9 88.8 613.1 87.9 613.3 87.0 613.5 86.0 613.7 85.1 613.9 84.1 614.0 83.2 614.2 82.3 614.4 81.3 614.6 80.4 614.8 79.5 615.0 78.5 615.1 77.6 615.3 76.7 615.5 75.8 615.7 74.8 615.9 73.9 616.1 73.0 616.3 72.1 616.4 71.2 616.6 70.2 616.8 69.3 617.0 68.4 617.2 67.5 617.4 66.6 617.6 65.7 617.8 64.8 618.0 63.8 618.2 62.9 618.4 62.0 618.6 61.1 618.8 60.2 619.0 59.3 619.2 58.4 619.4 57.4 619.6 56.5 619.8 55.6 620.1 54.7 620.3 53.8 620.5 52.9 620.7 52.0 621.0 51.0 621.2 50.1 621.4 49.2 621.7 48.3 621.9 47.3 622.2 46.4 622.4 45.5 622.7 44.6 622.9 43.6 623.2 42.7 623.5 41.8 623.7 40.8 624.0 39.9 624.3 38.9 624.6 38.0 624.9 37.1 625.3 36.2 625.7 35.3 626.2 34.5 626.7 33.8 627.3 33.1 628.0 32.5 628.8 32.5 629.6 33.1 630.2 33.7 630.8 34.5 631.2 35.3 631.6 36.2 631.9 37.1 632.2 38.1 632.4 39.0 632.6 40.0 632.8 41.0 633.0 42.0 633.2 42.9 633.4 43.9 633.6 44.8 633.8 45.8 634.0 46.7 634.2 47.7 634.3 48.6 634.5 49.5 634.7 50.5 634.8 51.4 635.0 52.3 635.1 53.2 635.3 54.2 635.4 55.1 635.6 56.0 635.7 56.9 635.9 57.9 636.0 58.8 636.2 59.7 636.3 60.6 636.5 61.6 636.6 62.5 636.7 63.4 636.9 64.3 637.0 65.3 637.1 66.2 637.3 67.1 637.4 68.1 637.5 69.0 637.7 69.9 637.8 70.9 637.9 71.8 638.0 72.7 638.2 73.7 638.3 74.6 638.4 75.5 638.5 76.5 638.7 77.4 638.8 78.3 638.9 79.3 639.0 80.2 639.1 81.2 639.3 82.1 639.4 83.0 639.5 84.0 639.6 84.9 639.7 85.9 639.8 86.8 639.9 87.7 640.0 88.7 640.2 89.6 640.3 90.6 640.4 91.5 640.5 92.5 640.6 93.4 640.7 94.3 640.8 95.3 640.9 96.2 641.0 97.2 641.1 98.1 641.2 99.1 641.3 100.0 641.4 101.0 641.5 101.9 641.6 102.9 641.7 103.8 641.8 104.8 641.9 105.7 641.9 106.6 642.0 107.6 642.1 108.5 642.2 109.5 642.3 110.4 642.4 111.4 642.5 112.3 642.6 113.3 642.6 114.2 642.7 115.2 642.8 116.1 642.9 117.1 643.0 118.0 643.1 119.0 643.1 119.9 643.2 120.9 643.3 121.8 643.4 122.7 643.5 123.7 643.5 124.6 643.6 125.6 643.7 126.5 643.8 127.5 643.9 128.4 643.9 129.4 644.0 130.3 644.1 131.3 644.2 132.2 644.2 133.2 644.3 134.1 644.4 135.1 644.5 136.0 644.5 137.0 644.6 137.9 644.7 138.9 644.8 139.8 644.8 140.7 644.9 141.7 645.0 142.6 645.1 143.6 645.1 144.5 645.2 145.5 645.3 146.4 645.4 147.4 645.4 148.3 645.5 149.3 645.6 150.2 645.7 151.2 645.7 152.1 645.8 153.0 645.9 154.0 646.0 154.9 646.1 155.9 646.1 156.8 646.2 157.8 646.3 158.7 646.4 159.7 646.5 160.6 646.5 161.6 646.6 162.5 646.7 163.4 646.8 164.4 646.9 165.3 647.0 166.3 647.0 167.2 647.1 168.2 647.2 169.1 647.3 170.1 647.4 171.0 647.5 171.9 647.6 172.9 647.7 173.8 647.8 174.8 647.9 175.7 648.0 176.7 648.1 177.6 648.1 178.5 648.2 179.5 648.3 180.4 648.4 181.4 648.6 182.3 648.7 183.3 648.8 184.2 648.9 185.1 649.0 186.1 649.1 187.0 649.2 188.0 649.3 188.9 649.4 189.8 649.5 190.8 649.6 191.7 649.8 192.7 649.9 193.6 650.0 194.5 650.1 195.5 650.2 196.4 650.4 197.3 650.5 198.3 650.6 199.2 650.7 200.2 650.9 201.1 651.0 202.0 651.1 203.0 651.3 203.9 651.4 204.8 651.6 205.8 651.7 206.7 651.8 207.7 652.0 208.6 652.1 209.5 652.3 210.5 652.4 211.4 652.6 212.3 652.7 213.3 652.9 214.2 653.1 215.1 653.2 216.1 653.4 217.0 653.6 217.9 653.7 218.9 653.9 219.8 654.1 220.7 654.2 221.7 654.4 222.6 654.6 223.5 654.8 224.4 655.0 225.4 655.2 226.3 655.3 227.2 655.5 228.2 655.7 229.1 655.9 230.0 656.1 230.9 656.3 231.9 656.5 232.8 656.7 233.7 657.0 234.7 657.2 235.6 657.4 236.5 657.6 237.4 657.8 238.4 658.1 239.3 658.3 240.2 658.5 241.1 658.7 242.1 659.0 243.0 659.2 243.9 659.5 244.8 659.7 245.7 660.0 246.7 660.2 247.6 660.5 248.5 660.7 249.4 661.0 250.3 661.3 251.2 661.6 252.2 661.9 253.1 662.2 253.9 662.5 254.8 662.8 255.7 663.1 256.6 663.5 257.5 663.9 258.3 664.2 259.2 664.6 260.1 665.0 260.9 665.5 261.7 665.9 262.6 666.4 263.4 666.8 264.2 667.3 265.0 667.8 265.8 668.4 266.5 668.9 267.3 669.5 268.0 670.1 268.8 670.7 269.5 671.4 270.2 672.1 270.9 672.8 271.5 673.5 272.2 674.2 272.9 675.0 273.5 675.8 274.1 676.6 274.6 677.5 275.1 678.3 275.6 700.0 276.5 700.0 276.5 L700.00 276.30 L520.00 276.30 Z" fill="rgb(190,190,133)" clip-path="url(#ct)"/><line x1="104.58" y1="8" x2="104.58" y2="543.6" stroke="rgb(212,192,140)" stroke-width="1.00"/><line x1="176.85" y1="8" x2="176.85" y2="543.6" stroke="rgb(212,192,140)" stroke-width="1.00"/><line x1="249.12" y1="8" x2="249.12" y2="543.6" stroke="rgb(212,192,140)" stroke-width="1.00"/><line x1="321.39" y1="8" x2="321.39" y2="543.6" stroke="rgb(212,192,140)" stroke-width="1.00"/><line x1="393.66" y1="8" x2="393.66" y2="543.6" stroke="rgb(212,192,140)" stroke-width="1.00"/><line x1="465.93" y1="8" x2="465.93" y2="543.6" stroke="rgb(212,192,140)" stroke-width="1.00"/><line x1="538.20" y1="8" x2="538.20" y2="543.6" stroke="rgb(212,192,140)" stroke-width="1.00"/><line x1="610.47" y1="8" x2="610.47" y2="543.6" stroke="rgb(212,192,140)" stroke-width="1.00"/><line x1="682.74" y1="8" x2="682.74" y2="543.6" stroke="rgb(212,192,140)" stroke-width="1.00"/><g clip-path="url(#ct)"><line x1="104.58" y1="8" x2="104.58" y2="543.6" stroke="rgb(172,175,125)" stroke-width="1.00"/><line x1="176.85" y1="8" x2="176.85" y2="543.6" stroke="rgb(172,175,125)" stroke-width="1.00"/><line x1="249.12" y1="8" x2="249.12" y2="543.6" stroke="rgb(172,175,125)" stroke-width="1.00"/><line x1="321.39" y1="8" x2="321.39" y2="543.6" stroke="rgb(172,175,125)" stroke-width="1.00"/><line x1="393.66" y1="8" x2="393.66" y2="543.6" stroke="rgb(172,175,125)" stroke-width="1.00"/><line x1="465.93" y1="8" x2="465.93" y2="543.6" stroke="rgb(172,175,125)" stroke-width="1.00"/><line x1="538.20" y1="8" x2="538.20" y2="543.6" stroke="rgb(172,175,125)" stroke-width="1.00"/><line x1="610.47" y1="8" x2="610.47" y2="543.6" stroke="rgb(172,175,125)" stroke-width="1.00"/><line x1="682.74" y1="8" x2="682.74" y2="543.6" stroke="rgb(172,175,125)" stroke-width="1.00"/></g><path d="M88.0 263.5 88.5 263.3 89.0 263.1 89.5 262.9 90.0 262.7 90.5 262.5 91.0 262.3 91.5 262.1 92.0 261.9 92.5 261.7 93.0 261.5 93.5 261.3 94.0 261.1 94.5 260.9 95.0 260.7 95.5 260.4 96.0 260.2 96.5 260.0 97.0 259.8 97.5 259.6 98.0 259.3 98.5 259.1 99.0 258.9 99.5 258.7 100.0 258.4 100.5 258.2 101.0 258.0 101.5 257.7 102.0 257.5 102.5 257.2 103.0 257.0 103.5 256.8 104.0 256.5 104.5 256.3 105.0 256.0 105.5 255.8 106.0 255.5 106.5 255.3 107.0 255.0 107.5 254.8 108.0 254.5 108.5 254.3 109.0 254.0 109.5 253.7 110.0 253.5 110.5 253.2 111.0 252.9 111.5 252.7 112.0 252.4 112.5 252.1 113.0 251.9 113.5 251.6 114.0 251.3 114.5 251.0 115.0 250.8 115.5 250.5 116.0 250.2 116.5 249.9 117.0 249.6 117.5 249.3 118.0 249.1 118.5 248.8 119.0 248.5 119.5 248.2 120.0 247.9 120.5 247.6 121.0 247.3 121.5 247.0 122.0 246.7 122.5 246.4 123.0 246.1 123.5 245.8 124.0 245.5 124.5 245.2 125.0 244.9 125.5 244.6 126.0 244.3 126.5 244.0 127.0 243.7 127.5 243.3 128.0 243.0 128.5 242.7 129.0 242.4 129.5 242.1 130.0 241.8 130.5 241.4 131.0 241.1 131.5 240.8 132.0 240.5 132.5 240.2 133.0 239.8 133.5 239.5 134.0 239.2 134.5 238.8 135.0 238.5 135.5 238.2 136.0 237.9 136.5 237.5 137.0 237.2 137.5 236.9 138.0 236.5 138.5 236.2 139.0 235.8 139.5 235.5 140.0 235.2 140.5 234.8 141.0 234.5 141.5 234.1 142.0 233.8 142.5 233.4 143.0 233.1 143.5 232.8 144.0 232.4 144.5 232.1 145.0 231.7 145.5 231.4 146.0 231.0 146.5 230.7 147.0 230.3 147.5 230.0 148.0 229.6 148.5 229.3 149.0 228.9 149.5 228.6 150.0 228.2 150.5 227.8 151.0 227.5 151.5 227.1 152.0 226.8 152.5 226.4 153.0 226.1 153.5 225.7 154.0 225.3 154.5 225.0 155.0 224.6 155.5 224.3 156.0 223.9 156.5 223.6 157.0 223.2 157.5 222.8 158.0 222.5 158.5 222.1 159.0 221.7 159.5 221.4 160.0 221.0 160.5 220.7 161.0 220.3 161.5 219.9 162.0 219.6 162.5 219.2 163.0 218.9 163.5 218.5 164.0 218.1 164.5 217.8 165.0 217.4 165.5 217.0 166.0 216.7 166.5 216.3 167.0 216.0 167.5 215.6 168.0 215.2 168.5 214.9 169.0 214.5 169.5 214.2 170.0 213.8 170.5 213.4 171.0 213.1 171.5 212.7 172.0 212.4 172.5 212.0 173.0 211.6 173.5 211.3 174.0 210.9 174.5 210.6 175.0 210.2 175.5 209.9 176.0 209.5 176.5 209.1 177.0 208.8 177.5 208.4 178.0 208.1 178.5 207.7 179.0 207.4 179.5 207.0 180.0 206.7 180.5 206.3 181.0 206.0 181.5 205.6 182.0 205.3 182.5 204.9 183.0 204.6 183.5 204.2 184.0 203.9 184.5 203.5 185.0 203.2 185.5 202.8 186.0 202.5 186.5 202.1 187.0 201.8 187.5 201.4 188.0 201.1 188.5 200.7 189.0 200.4 189.5 200.1 190.0 199.7 190.5 199.4 191.0 199.0 191.5 198.7 192.0 198.3 192.5 198.0 193.0 197.7 193.5 197.3 194.0 197.0 194.5 196.6 195.0 196.3 195.5 196.0 196.0 195.6 196.5 195.3 197.0 195.0 197.5 194.6 198.0 194.3 198.5 194.0 199.0 193.6 199.5 193.3 200.0 192.9 200.5 192.6 201.0 192.3 201.5 191.9 202.0 191.6 202.5 191.3 203.0 190.9 203.5 190.6 204.0 190.3 204.5 189.9 205.0 189.6 205.5 189.3 206.0 188.9 206.5 188.6 207.0 188.2 207.5 187.9 208.0 187.6 208.5 187.2 209.0 186.9 209.5 186.6 210.0 186.2 210.5 185.9 211.0 185.5 211.5 185.2 212.0 184.9 212.5 184.5 213.0 184.2 213.5 183.8 214.0 183.5 214.5 183.2 215.0 182.8 215.5 182.5 216.0 182.1 216.5 181.8 217.0 181.4 217.5 181.1 218.0 180.7 218.5 180.4 219.0 180.0 219.5 179.7 220.0 179.3 220.5 179.0 221.0 178.6 221.5 178.3 222.0 177.9 222.5 177.5 223.0 177.2 223.5 176.8 224.0 176.5 224.5 176.1 225.0 175.7 225.5 175.4 226.0 175.0 226.5 174.6 227.0 174.2 227.5 173.9 228.0 173.5 228.5 173.1 229.0 172.7 229.5 172.4 230.0 172.0 230.5 171.6 231.0 171.2 231.5 170.8 232.0 170.4 232.5 170.0 233.0 169.6 233.5 169.3 234.0 168.9 234.5 168.5 235.0 168.1 235.5 167.7 236.0 167.2 236.5 166.8 237.0 166.4 237.5 166.0 238.0 165.6 238.5 165.2 239.0 164.8 239.5 164.4 240.0 163.9 240.5 163.5 241.0 163.1 241.5 162.7 242.0 162.2 242.5 161.8 243.0 161.4 243.5 161.0 244.0 160.5 244.5 160.1 245.0 159.6 245.5 159.2 246.0 158.8 246.5 158.3 247.0 157.9 247.5 157.4 248.0 157.0 248.5 156.5 249.0 156.1 249.5 155.6 250.0 155.2 250.5 154.7 251.0 154.2 251.5 153.8 252.0 153.3 252.5 152.9 253.0 152.4 253.5 151.9 254.0 151.5 254.5 151.0 255.0 150.5 255.5 150.0 256.0 149.6 256.5 149.1 257.0 148.6 257.5 148.1 258.0 147.7 258.5 147.2 259.0 146.7 259.5 146.2 260.0 145.7 260.5 145.3 261.0 144.8 261.5 144.3 262.0 143.8 262.5 143.3 263.0 142.8 263.5 142.3 264.0 141.9 264.5 141.4 265.0 140.9 265.5 140.4 266.0 139.9 266.5 139.4 267.0 138.9 267.5 138.4 268.0 138.0 268.5 137.5 269.0 137.0 269.5 136.5 270.0 136.0 270.5 135.5 271.0 135.0 271.5 134.5 272.0 134.1 272.5 133.6 273.0 133.1 273.5 132.6 274.0 132.1 274.5 131.6 275.0 131.1 275.5 130.7 276.0 130.2 276.5 129.7 277.0 129.2 277.5 128.7 278.0 128.3 278.5 127.8 279.0 127.3 279.5 126.9 280.0 126.4 280.5 125.9 281.0 125.4 281.5 125.0 282.0 124.5 282.5 124.0 283.0 123.6 283.5 123.1 284.0 122.7 284.5 122.2 285.0 121.8 285.5 121.3 286.0 120.9 286.5 120.4 287.0 120.0 287.5 119.5 288.0 119.1 288.5 118.6 289.0 118.2 289.5 117.8 290.0 117.3 290.5 116.9 291.0 116.5 291.5 116.0 292.0 115.6 292.5 115.2 293.0 114.8 293.5 114.4 294.0 114.0 294.5 113.5 295.0 113.1 295.5 112.7 296.0 112.3 296.5 111.9 297.0 111.5 297.5 111.1 298.0 110.7 298.5 110.3 299.0 110.0 299.5 109.6 300.0 109.2 300.5 108.8 301.0 108.4 301.5 108.1 302.0 107.7 302.5 107.3 303.0 107.0 303.5 106.6 304.0 106.2 304.5 105.9 305.0 105.5 305.5 105.2 306.0 104.8 306.5 104.5 307.0 104.1 307.5 103.8 308.0 103.4 308.5 103.1 309.0 102.8 309.5 102.4 310.0 102.1 310.5 101.8 311.0 101.5 311.5 101.1 312.0 100.8 312.5 100.5 313.0 100.2 313.5 99.9 314.0 99.6 314.5 99.2 315.0 98.9 315.5 98.6 316.0 98.3 316.5 98.0 317.0 97.7 317.5 97.4 318.0 97.1 318.5 96.9 319.0 96.6 319.5 96.3 320.0 96.0 320.5 95.7 321.0 95.4 321.5 95.1 322.0 94.9 322.5 94.6 323.0 94.3 323.5 94.0 324.0 93.8 324.5 93.5 325.0 93.2 325.5 92.9 326.0 92.7 326.5 92.4 327.0 92.1 327.5 91.9 328.0 91.6 328.5 91.4 329.0 91.1 329.5 90.8 330.0 90.6 330.5 90.3 331.0 90.1 331.5 89.8 332.0 89.5 332.5 89.3 333.0 89.0 333.5 88.8 334.0 88.5 334.5 88.3 335.0 88.0 335.5 87.8 336.0 87.5 336.5 87.2 337.0 87.0 337.5 86.7 338.0 86.5 338.5 86.2 339.0 86.0 339.5 85.7 340.0 85.5 340.5 85.2 341.0 85.0 341.5 84.7 342.0 84.4 342.5 84.2 343.0 83.9 343.5 83.7 344.0 83.4 344.5 83.2 345.0 82.9 345.5 82.6 346.0 82.4 346.5 82.1 347.0 81.8 347.5 81.6 348.0 81.3 348.5 81.0 349.0 80.8 349.5 80.5 350.0 80.2 350.5 80.0 351.0 79.7 351.5 79.4 352.0 79.2 352.5 78.9 353.0 78.6 353.5 78.3 354.0 78.0 354.5 77.8 355.0 77.5 355.5 77.2 356.0 76.9 356.5 76.6 357.0 76.3 357.5 76.1 358.0 75.8 358.5 75.5 359.0 75.2 359.5 74.9 360.0 74.6 360.5 74.3 361.0 74.0 361.5 73.7 362.0 73.4 362.5 73.1 363.0 72.8 363.5 72.5 364.0 72.2 364.5 71.9 365.0 71.6 365.5 71.3 366.0 70.9 366.5 70.6 367.0 70.3 367.5 70.0 368.0 69.7 368.5 69.4 369.0 69.0 369.5 68.7 370.0 68.4 370.5 68.1 371.0 67.7 371.5 67.4 372.0 67.1 372.5 66.8 373.0 66.4 373.5 66.1 374.0 65.8 374.5 65.4 375.0 65.1 375.5 64.8 376.0 64.4 376.5 64.1 377.0 63.8 377.5 63.4 378.0 63.1 378.5 62.7 379.0 62.4 379.5 62.1 380.0 61.7 380.5 61.4 381.0 61.0 381.5 60.7 382.0 60.3 382.5 60.0 383.0 59.7 383.5 59.3 384.0 59.0 384.5 58.6 385.0 58.3 385.5 57.9 386.0 57.6 386.5 57.2 387.0 56.9 387.5 56.6 388.0 56.2 388.5 55.9 389.0 55.5 389.5 55.2 390.0 54.8 390.5 54.5 391.0 54.2 391.5 53.8 392.0 53.5 392.5 53.1 393.0 52.8 393.5 52.5 394.0 52.1 394.5 51.8 395.0 51.5 395.5 51.1 396.0 50.8 396.5 50.5 397.0 50.2 397.5 49.8 398.0 49.5 398.5 49.2 399.0 48.9 399.5 48.5 400.0 48.2 400.5 47.9 401.0 47.6 401.5 47.3 402.0 47.0 402.5 46.6 403.0 46.3 403.5 46.0 404.0 45.7 404.5 45.4 405.0 45.1 405.5 44.8 406.0 44.5 406.5 44.2 407.0 44.0 407.5 43.7 408.0 43.4 408.5 43.1 409.0 42.8 409.5 42.5 410.0 42.3 410.5 42.0 411.0 41.7 411.5 41.5 412.0 41.2 412.5 40.9 413.0 40.7 413.5 40.4 414.0 40.2 414.5 39.9 415.0 39.7 415.5 39.5 416.0 39.2 416.5 39.0 417.0 38.8 417.5 38.5 418.0 38.3 418.5 38.1 419.0 37.9 419.5 37.7 420.0 37.4 420.5 37.2 421.0 37.0 421.5 36.8 422.0 36.6 422.5 36.5 423.0 36.3 423.5 36.1 424.0 35.9 424.5 35.7 425.0 35.6 425.5 35.4 426.0 35.2 426.5 35.1 427.0 34.9 427.5 34.8 428.0 34.6 428.5 34.5 429.0 34.3 429.5 34.2 430.0 34.1 430.5 33.9 431.0 33.8 431.5 33.7 432.0 33.6 432.5 33.5 433.0 33.4 433.5 33.3 434.0 33.2 434.5 33.1 435.0 33.0 435.5 32.9 436.0 32.8 436.5 32.7 437.0 32.7 437.5 32.6 438.0 32.5 438.5 32.5 439.0 32.4 439.5 32.4 440.0 32.3 440.5 32.3 441.0 32.3 441.5 32.2 442.0 32.2 442.5 32.2 443.0 32.2 443.5 32.1 444.0 32.1 444.5 32.1 445.0 32.1 445.5 32.1 446.0 32.2 446.5 32.2 447.0 32.2 447.5 32.2 448.0 32.2 448.5 32.3 449.0 32.3 449.5 32.4 450.0 32.4 450.5 32.5 451.0 32.5 451.5 32.6 452.0 32.7 452.5 32.7 453.0 32.8 453.5 32.9 454.0 33.0 454.5 33.1 455.0 33.2 455.5 33.3 456.0 33.4 456.5 33.5 457.0 33.6 457.5 33.8 458.0 33.9 458.5 34.0 459.0 34.2 459.5 34.3 460.0 34.5 460.5 34.6 461.0 34.8 461.5 35.0 462.0 35.1 462.5 35.3 463.0 35.5 463.5 35.7 464.0 35.9 464.5 36.1 465.0 36.3 465.5 36.5 466.0 36.7 466.5 36.9 467.0 37.2 467.5 37.4 468.0 37.6 468.5 37.9 469.0 38.1 469.5 38.4 470.0 38.7 470.5 38.9 471.0 39.2 471.5 39.5 472.0 39.8 472.5 40.1 473.0 40.4 473.5 40.7 474.0 41.0 474.5 41.3 475.0 41.6 475.5 42.0 476.0 42.3 476.5 42.6 477.0 43.0 477.5 43.4 478.0 43.7 478.5 44.1 479.0 44.5 479.5 44.8 480.0 45.2 480.5 45.6 481.0 46.0 481.5 46.4 482.0 46.8 482.5 47.3 483.0 47.7 483.5 48.1 484.0 48.6 484.5 49.0 485.0 49.5 485.5 49.9 486.0 50.4 486.5 50.8 487.0 51.3 487.5 51.8 488.0 52.3 488.5 52.8 489.0 53.3 489.5 53.8 490.0 54.3 490.5 54.8 491.0 55.4 491.5 55.9 492.0 56.5 492.5 57.0 493.0 57.6 493.5 58.1 494.0 58.7 494.5 59.3 495.0 59.8 495.5 60.4 496.0 61.0 496.5 61.6 497.0 62.2 497.5 62.8 498.0 63.4 498.5 64.1 499.0 64.7 499.5 65.3 500.0 66.0 500.5 66.6 501.0 67.3 501.5 67.9 502.0 68.6 502.5 69.2 503.0 69.9 503.5 70.6 504.0 71.3 504.5 72.0 505.0 72.6 505.5 73.3 506.0 74.1 506.5 74.8 507.0 75.5 507.5 76.2 508.0 76.9 508.5 77.6 509.0 78.4 509.5 79.1 510.0 79.9 510.5 80.6 511.0 81.3 511.5 82.1 512.0 82.9 512.5 83.6 513.0 84.4 513.5 85.2 514.0 85.9 514.5 86.7 515.0 87.5 515.5 88.3 516.0 89.0 516.5 89.8 517.0 90.6 517.5 91.4 518.0 92.2 518.5 93.0 519.0 93.8 519.5 94.6 520.0 95.4 520.5 96.2 521.0 97.0 521.5 97.9 522.0 98.7 522.5 99.5 523.0 100.3 523.5 101.1 524.0 101.9 524.5 102.8 525.0 103.6 525.5 104.4 526.0 105.2 526.5 106.1 527.0 106.9 527.5 107.7 528.0 108.5 528.5 109.4 529.0 110.2 529.5 111.0 530.0 111.8 530.5 112.7 531.0 113.5 531.5 114.3 532.0 115.1 532.5 115.9 533.0 116.8 533.5 117.6 534.0 118.4 534.5 119.2 535.0 120.0 535.5 120.9 536.0 121.7 536.5 122.5 537.0 123.3 537.5 124.1 538.0 124.9 538.5 125.7 539.0 126.5 539.5 127.3 540.0 128.1 540.5 128.9 541.0 129.7 541.5 130.4 542.0 131.2 542.5 132.0 543.0 132.8 543.5 133.5 544.0 134.3 544.5 135.1 545.0 135.8 545.5 136.6 546.0 137.3 546.5 138.1 547.0 138.8 547.5 139.6 548.0 140.3 548.5 141.0 549.0 141.8 549.5 142.5 550.0 143.2 550.5 143.9 551.0 144.6 551.5 145.3 552.0 146.0 552.5 146.7 553.0 147.4 553.5 148.1 554.0 148.8 554.5 149.5 555.0 150.1 555.5 150.8 556.0 151.4 556.5 152.1 557.0 152.7 557.5 153.4 558.0 154.0 558.5 154.7 559.0 155.3 559.5 155.9 560.0 156.5 560.5 157.1 561.0 157.7 561.5 158.3 562.0 158.9 562.5 159.5 563.0 160.1 563.5 160.7 564.0 161.2 564.5 161.8 565.0 162.3 565.5 162.9 566.0 163.4 566.5 164.0 567.0 164.5 567.5 165.0 568.0 165.6 568.5 166.1 569.0 166.6 569.5 167.1 570.0 167.6 570.5 168.1 571.0 168.6 571.5 169.1 572.0 169.5 572.5 170.0 573.0 170.5 573.5 170.9 574.0 171.4 574.5 171.8 575.0 172.3 575.5 172.7 576.0 173.2 576.5 173.6 577.0 174.0 577.5 174.4 578.0 174.8 578.5 175.2 579.0 175.6 579.5 176.0 580.0 176.4 580.5 176.8 581.0 177.2 581.5 177.6 582.0 178.0 582.5 178.3 583.0 178.7 583.5 179.1 584.0 179.4 584.5 179.8 585.0 180.1 585.5 180.5 586.0 180.8 586.5 181.1 587.0 181.5 587.5 181.8 588.0 182.1 588.5 182.4 589.0 182.7 589.5 183.1 590.0 183.4 590.5 183.7 591.0 184.0 591.5 184.3 592.0 184.6 592.5 184.9 593.0 185.2 593.5 185.4 594.0 185.7 594.5 186.0 595.0 186.3 595.5 186.6 596.0 186.8 596.5 187.1 597.0 187.4 597.5 187.6 598.0 187.9 598.5 188.2 599.0 188.4 599.5 188.7 600.0 188.9 600.5 189.2 601.0 189.4 601.5 189.7 602.0 189.9 602.5 190.2 603.0 190.4 603.5 190.6 604.0 190.9 604.5 191.1 605.0 191.4 605.5 191.6 606.0 191.8 606.5 192.1 607.0 192.3 607.5 192.5 608.0 192.8 608.5 193.0 609.0 193.2 609.5 193.5 610.0 193.7 610.5 193.9 611.0 194.1 611.5 194.4 612.0 194.6 612.5 194.8 613.0 195.1 613.5 195.3 614.0 195.5 614.5 195.7 615.0 196.0 615.5 196.2 616.0 196.4 616.5 196.6 617.0 196.9 617.5 197.1 618.0 197.3 618.5 197.5 619.0 197.8 619.5 198.0 620.0 198.2 620.5 198.5 621.0 198.7 621.5 198.9 622.0 199.1 622.5 199.4 623.0 199.6 623.5 199.8 624.0 200.1 624.5 200.3 625.0 200.5 625.5 200.8 626.0 201.0 626.5 201.3 627.0 201.5 627.5 201.7 628.0 202.0 628.5 202.2 629.0 202.5 629.5 202.7 630.0 202.9 630.5 203.2 631.0 203.4 631.5 203.7 632.0 203.9 632.5 204.2 633.0 204.4 633.5 204.7 634.0 205.0 634.5 205.2 635.0 205.5 635.5 205.7 636.0 206.0 636.5 206.2 637.0 206.5 637.5 206.8 638.0 207.0 638.5 207.3 639.0 207.6 639.5 207.8 640.0 208.1 640.5 208.4 641.0 208.7 641.5 208.9 642.0 209.2 642.5 209.5 643.0 209.8 643.5 210.0 644.0 210.3 644.5 210.6 645.0 210.9 645.5 211.2 646.0 211.5 646.5 211.7 647.0 212.0 647.5 212.3 648.0 212.6 648.5 212.9 649.0 213.2 649.5 213.5 650.0 213.8 650.5 214.1 651.0 214.4 651.5 214.7 652.0 215.0 652.5 215.3 653.0 215.6 653.5 215.9 654.0 216.2 654.5 216.5 655.0 216.8 655.5 217.1 656.0 217.4 656.5 217.7 657.0 218.0 657.5 218.3 658.0 218.7 658.5 219.0 659.0 219.3 659.5 219.6 660.0 219.9 660.5 220.2 661.0 220.5 661.5 220.9 662.0 221.2 662.5 221.5 663.0 221.8 663.5 222.1 664.0 222.5 664.5 222.8 665.0 223.1 665.5 223.4 666.0 223.7 666.5 224.1 667.0 224.4 667.5 224.7 668.0 225.0 668.5 225.4 669.0 225.7 669.5 226.0 670.0 226.3 670.5 226.7 671.0 227.0 671.5 227.3 672.0 227.7 672.5 228.0 673.0 228.3 673.5 228.6 674.0 229.0 674.5 229.3 675.0 229.6 675.5 229.9 676.0 230.3 676.5 230.6 677.0 230.9 677.5 231.2 678.0 231.6 678.5 231.9 679.0 232.2 679.5 232.6 680.0 232.9 680.5 233.2 681.0 233.5 681.5 233.9 682.0 234.2 682.5 234.5 683.0 234.8 683.5 235.1 684.0 235.5 684.5 235.8 685.0 236.1 685.5 236.4 686.0 236.8 686.5 237.1 687.0 237.4 687.5 237.7 688.0 238.0 688.5 238.3 689.0 238.7 689.5 239.0 690.0 239.3 690.5 239.6 691.0 239.9 691.5 240.2 692.0 240.5 692.5 240.8 693.0 241.2 693.5 241.5 694.0 241.8 694.5 242.1 695.0 242.4 695.5 242.7 696.0 243.0 696.5 243.3 697.0 243.6 697.5 243.9 698.0 244.2 698.5 244.5 699.0 244.8 699.5 245.1 700.0 245.4 700.5 245.7 701.0 246.0 701.5 246.3 702.0 246.5 702.5 246.8 703.0 247.1 703.5 247.4 704.0 247.7 704.5 248.0 705.0 248.3 705.5 248.5 706.0 248.8 706.5 249.1 707.0 249.4 707.5 249.6 708.0 249.9 708.5 250.2 709.0 250.5 709.5 250.7 710.0 251.0 710.5 251.3 711.0 251.5 711.5 251.8 712.0 252.0 712.5 252.3 713.0 252.6 713.5 252.8 714.0 253.1 714.5 253.3 715.0 253.6 715.5 253.8 716.0 254.1 716.5 254.3 717.0 254.6 717.5 254.8 718.0 255.1 718.5 255.3 719.0 255.5 719.5 255.8 720.0 256.0 720.5 256.3 721.0 256.5 721.5 256.7 722.0 257.0 722.5 257.2 723.0 257.4 723.5 257.6 724.0 257.9 724.5 258.1 725.0 258.3 725.5 258.5 726.0 258.7 726.5 259.0 727.0 259.2 727.5 259.4 728.0 259.6 728.5 259.8 729.0 260.0 729.5 260.2 730.0 260.4 730.5 260.6 731.0 260.8 731.5 261.0 732.0 261.2 732.5 261.4 733.0 261.6 733.5 261.8 734.0 262.0 734.5 262.2 735.0 262.4 735.5 262.6 736.0 262.7 736.5 262.9 737.0 263.1 737.5 263.3 738.0 263.5 738.5 263.6 739.0 263.8 739.5 264.0 740.0 264.2 740.5 264.3 741.0 264.5 741.5 264.7 742.0 264.8 742.5 265.0 743.0 265.2 743.5 265.3 744.0 265.5 744.5 265.6 745.0 265.8 745.5 266.0 746.0 266.1 746.5 266.3" fill="none" stroke="rgb(78,62,28)" stroke-width="2.2"/></g>
<path d="M88.0 276.5 520.0 276.5 536.2 276.5 537.2 276.5 538.2 276.5 539.1 276.5 540.0 276.4 540.9 276.2 541.7 275.8 542.5 275.4 543.2 274.9 543.9 274.4 544.6 273.8 545.3 273.2 545.9 272.5 546.5 271.8 547.1 271.0 547.6 270.3 548.1 269.5 548.7 268.7 549.2 267.9 549.6 267.1 550.1 266.3 550.6 265.5 551.0 264.7 551.4 263.8 551.8 263.0 552.2 262.2 552.6 261.3 553.0 260.5 553.4 259.6 553.7 258.7 554.1 257.9 554.4 257.0 554.7 256.1 555.0 255.3 555.3 254.4 555.6 253.5 555.8 252.6 556.1 251.7 556.4 250.8 556.6 249.9 556.8 249.0 557.1 248.0 557.3 247.1 557.5 246.2 557.7 245.3 557.9 244.4 558.1 243.4 558.2 242.5 558.4 241.6 558.6 240.6 558.7 239.7 558.9 238.7 559.0 237.8 559.2 236.8 559.3 235.9 559.5 234.9 559.6 234.0 559.7 233.0 559.8 232.1 560.0 231.1 560.1 230.2 560.2 229.2 560.3 228.2 560.4 227.3 560.5 226.3 560.6 225.4 560.7 224.4 560.8 223.4 560.9 222.5 561.0 221.5 561.1 220.6 561.2 219.6 561.3 218.6 561.4 217.7 561.5 216.7 561.6 215.8 561.7 214.8 561.8 213.9 561.9 212.9 562.1 211.9 562.2 211.0 562.3 210.0 562.4 209.1 562.5 208.2 562.7 207.2 562.8 206.3 562.9 205.3 563.0 204.4 563.2 203.4 563.3 202.5 563.5 201.6 563.6 200.6 563.7 199.7 563.9 198.8 564.0 197.8 564.2 196.9 564.3 196.0 564.5 195.1 564.7 194.1 564.8 193.2 565.0 192.3 565.1 191.3 565.3 190.4 565.5 189.5 565.6 188.6 565.8 187.6 565.9 186.7 566.1 185.8 566.3 184.9 566.5 183.9 566.6 183.0 566.8 182.1 567.0 181.2 567.1 180.3 567.3 179.3 567.5 178.4 567.7 177.5 567.8 176.6 568.0 175.6 568.2 174.7 568.4 173.8 568.5 172.9 568.7 171.9 568.9 171.0 569.1 170.1 569.2 169.2 569.4 168.2 569.6 167.3 569.8 166.4 569.9 165.5 570.1 164.5 570.3 163.6 570.4 162.7 570.6 161.7 570.8 160.8 571.0 159.9 571.1 158.9 571.3 158.0 571.5 157.0 571.6 156.1 571.8 155.2 572.0 154.2 572.1 153.3 572.3 152.3 572.5 151.4 572.7 150.5 572.9 149.5 573.1 148.6 573.3 147.7 573.5 146.7 573.7 145.8 574.0 144.9 574.2 144.0 574.5 143.0 574.7 142.1 575.0 141.2 575.3 140.3 575.6 139.4 575.9 138.5 576.2 137.6 576.5 136.7 576.9 135.8 577.2 134.9 577.6 134.1 578.0 133.2 578.4 132.3 578.8 131.5 579.3 130.6 579.8 129.8 580.2 128.9 580.8 128.1 581.3 127.3 581.9 126.6 582.5 126.0 583.1 125.4 583.8 124.8 584.5 124.4 585.2 124.1 586.1 123.9 586.9 123.8 587.8 123.9 588.8 124.1 589.8 124.4 590.9 124.9 591.9 125.3 593.0 125.6 593.9 125.6 594.8 125.4 595.6 125.0 596.3 124.4 597.0 123.7 597.7 123.1 598.4 122.4 599.0 121.6 599.6 120.9 600.2 120.2 600.8 119.5 601.4 118.7 601.9 117.9 602.5 117.2 603.0 116.4 603.5 115.6 604.0 114.8 604.4 114.0 604.9 113.2 605.3 112.3 605.8 111.5 606.2 110.6 606.6 109.8 606.9 108.9 607.3 108.1 607.7 107.2 608.0 106.3 608.3 105.4 608.7 104.5 609.0 103.6 609.3 102.7 609.6 101.8 609.9 100.9 610.1 100.0 610.4 99.1 610.7 98.2 610.9 97.3 611.2 96.3 611.4 95.4 611.6 94.5 611.8 93.5 612.1 92.6 612.3 91.7 612.5 90.7 612.7 89.8 612.9 88.8 613.1 87.9 613.3 87.0 613.5 86.0 613.7 85.1 613.9 84.1 614.0 83.2 614.2 82.3 614.4 81.3 614.6 80.4 614.8 79.5 615.0 78.5 615.1 77.6 615.3 76.7 615.5 75.8 615.7 74.8 615.9 73.9 616.1 73.0 616.3 72.1 616.4 71.2 616.6 70.2 616.8 69.3 617.0 68.4 617.2 67.5 617.4 66.6 617.6 65.7 617.8 64.8 618.0 63.8 618.2 62.9 618.4 62.0 618.6 61.1 618.8 60.2 619.0 59.3 619.2 58.4 619.4 57.4 619.6 56.5 619.8 55.6 620.1 54.7 620.3 53.8 620.5 52.9 620.7 52.0 621.0 51.0 621.2 50.1 621.4 49.2 621.7 48.3 621.9 47.3 622.2 46.4 622.4 45.5 622.7 44.6 622.9 43.6 623.2 42.7 623.5 41.8 623.7 40.8 624.0 39.9 624.3 38.9 624.6 38.0 624.9 37.1 625.3 36.2 625.7 35.3 626.2 34.5 626.7 33.8 627.3 33.1 628.0 32.5 628.8 32.5 629.6 33.1 630.2 33.7 630.8 34.5 631.2 35.3 631.6 36.2 631.9 37.1 632.2 38.1 632.4 39.0 632.6 40.0 632.8 41.0 633.0 42.0 633.2 42.9 633.4 43.9 633.6 44.8 633.8 45.8 634.0 46.7 634.2 47.7 634.3 48.6 634.5 49.5 634.7 50.5 634.8 51.4 635.0 52.3 635.1 53.2 635.3 54.2 635.4 55.1 635.6 56.0 635.7 56.9 635.9 57.9 636.0 58.8 636.2 59.7 636.3 60.6 636.5 61.6 636.6 62.5 636.7 63.4 636.9 64.3 637.0 65.3 637.1 66.2 637.3 67.1 637.4 68.1 637.5 69.0 637.7 69.9 637.8 70.9 637.9 71.8 638.0 72.7 638.2 73.7 638.3 74.6 638.4 75.5 638.5 76.5 638.7 77.4 638.8 78.3 638.9 79.3 639.0 80.2 639.1 81.2 639.3 82.1 639.4 83.0 639.5 84.0 639.6 84.9 639.7 85.9 639.8 86.8 639.9 87.7 640.0 88.7 640.2 89.6 640.3 90.6 640.4 91.5 640.5 92.5 640.6 93.4 640.7 94.3 640.8 95.3 640.9 96.2 641.0 97.2 641.1 98.1 641.2 99.1 641.3 100.0 641.4 101.0 641.5 101.9 641.6 102.9 641.7 103.8 641.8 104.8 641.9 105.7 641.9 106.6 642.0 107.6 642.1 108.5 642.2 109.5 642.3 110.4 642.4 111.4 642.5 112.3 642.6 113.3 642.6 114.2 642.7 115.2 642.8 116.1 642.9 117.1 643.0 118.0 643.1 119.0 643.1 119.9 643.2 120.9 643.3 121.8 643.4 122.7 643.5 123.7 643.5 124.6 643.6 125.6 643.7 126.5 643.8 127.5 643.9 128.4 643.9 129.4 644.0 130.3 644.1 131.3 644.2 132.2 644.2 133.2 644.3 134.1 644.4 135.1 644.5 136.0 644.5 137.0 644.6 137.9 644.7 138.9 644.8 139.8 644.8 140.7 644.9 141.7 645.0 142.6 645.1 143.6 645.1 144.5 645.2 145.5 645.3 146.4 645.4 147.4 645.4 148.3 645.5 149.3 645.6 150.2 645.7 151.2 645.7 152.1 645.8 153.0 645.9 154.0 646.0 154.9 646.1 155.9 646.1 156.8 646.2 157.8 646.3 158.7 646.4 159.7 646.5 160.6 646.5 161.6 646.6 162.5 646.7 163.4 646.8 164.4 646.9 165.3 647.0 166.3 647.0 167.2 647.1 168.2 647.2 169.1 647.3 170.1 647.4 171.0 647.5 171.9 647.6 172.9 647.7 173.8 647.8 174.8 647.9 175.7 648.0 176.7 648.1 177.6 648.1 178.5 648.2 179.5 648.3 180.4 648.4 181.4 648.6 182.3 648.7 183.3 648.8 184.2 648.9 185.1 649.0 186.1 649.1 187.0 649.2 188.0 649.3 188.9 649.4 189.8 649.5 190.8 649.6 191.7 649.8 192.7 649.9 193.6 650.0 194.5 650.1 195.5 650.2 196.4 650.4 197.3 650.5 198.3 650.6 199.2 650.7 200.2 650.9 201.1 651.0 202.0 651.1 203.0 651.3 203.9 651.4 204.8 651.6 205.8 651.7 206.7 651.8 207.7 652.0 208.6 652.1 209.5 652.3 210.5 652.4 211.4 652.6 212.3 652.7 213.3 652.9 214.2 653.1 215.1 653.2 216.1 653.4 217.0 653.6 217.9 653.7 218.9 653.9 219.8 654.1 220.7 654.2 221.7 654.4 222.6 654.6 223.5 654.8 224.4 655.0 225.4 655.2 226.3 655.3 227.2 655.5 228.2 655.7 229.1 655.9 230.0 656.1 230.9 656.3 231.9 656.5 232.8 656.7 233.7 657.0 234.7 657.2 235.6 657.4 236.5 657.6 237.4 657.8 238.4 658.1 239.3 658.3 240.2 658.5 241.1 658.7 242.1 659.0 243.0 659.2 243.9 659.5 244.8 659.7 245.7 660.0 246.7 660.2 247.6 660.5 248.5 660.7 249.4 661.0 250.3 661.3 251.2 661.6 252.2 661.9 253.1 662.2 253.9 662.5 254.8 662.8 255.7 663.1 256.6 663.5 257.5 663.9 258.3 664.2 259.2 664.6 260.1 665.0 260.9 665.5 261.7 665.9 262.6 666.4 263.4 666.8 264.2 667.3 265.0 667.8 265.8 668.4 266.5 668.9 267.3 669.5 268.0 670.1 268.8 670.7 269.5 671.4 270.2 672.1 270.9 672.8 271.5 673.5 272.2 674.2 272.9 675.0 273.5 675.8 274.1 676.6 274.6 677.5 275.1 678.3 275.6 700.0 276.5 700.0 276.5 746.0 276.5" fill="none" stroke="#000" stroke-width="2.2"/>
<g stroke="rgb(40,165,185)" stroke-opacity="0.58" stroke-width="0.85"><line x1="580.5" y1="501.96" x2="582.5" y2="501.96"/><line x1="617.3" y1="507.20" x2="632.4" y2="507.20"/><line x1="618.4" y1="512.44" x2="650.5" y2="512.44"/><line x1="612.0" y1="514.18" x2="657.8" y2="514.18"/><line x1="644.7" y1="515.93" x2="653.8" y2="515.93"/><line x1="613.6" y1="517.68" x2="673.4" y2="517.68"/><line x1="617.9" y1="519.42" x2="739.5" y2="519.42"/></g>
<g fill="rgb(40,165,185)" fill-opacity="0.6" stroke="rgb(40,165,185)" stroke-opacity="0.8" stroke-width="0.9" stroke-linejoin="round"><path d="M588.0 501.96l-6.5 -3.5v7.0z"/><path d="M637.9 507.20l-6.5 -3.5v7.0z"/><path d="M656.0 512.44l-6.5 -3.5v7.0z"/><path d="M663.3 514.18l-6.5 -3.5v7.0z"/><path d="M659.3 515.93l-6.5 -3.5v7.0z"/><path d="M678.9 517.68l-6.5 -3.5v7.0z"/><path d="M745.0 519.42l-6.5 -3.5v7.0z"/></g>
<g stroke="rgb(228,180,60)" stroke-opacity="0.58" stroke-width="0.85"><line x1="425.0" y1="288.95" x2="623.5" y2="288.95"/><line x1="465.4" y1="290.70" x2="606.1" y2="290.70"/><line x1="465.4" y1="292.44" x2="604.9" y2="292.44"/><line x1="305.1" y1="294.19" x2="604.3" y2="294.19"/><line x1="421.9" y1="295.93" x2="603.8" y2="295.93"/><line x1="305.1" y1="297.68" x2="601.4" y2="297.68"/><line x1="447.0" y1="299.43" x2="645.2" y2="299.43"/><line x1="396.4" y1="301.17" x2="645.0" y2="301.17"/><line x1="511.0" y1="302.92" x2="602.4" y2="302.92"/><line x1="453.1" y1="304.66" x2="601.4" y2="304.66"/><line x1="428.0" y1="306.41" x2="644.7" y2="306.41"/><line x1="412.2" y1="308.16" x2="600.5" y2="308.16"/><line x1="487.7" y1="309.90" x2="600.5" y2="309.90"/><line x1="497.1" y1="313.39" x2="643.7" y2="313.39"/><line x1="321.1" y1="318.63" x2="598.0" y2="318.63"/><line x1="465.4" y1="320.38" x2="641.8" y2="320.38"/><line x1="582.2" y1="322.12" x2="611.7" y2="322.12"/><line x1="389.7" y1="323.87" x2="641.2" y2="323.87"/><line x1="494.1" y1="325.62" x2="640.7" y2="325.62"/><line x1="547.2" y1="327.36" x2="602.0" y2="327.36"/><line x1="428.0" y1="329.11" x2="639.5" y2="329.11"/><line x1="412.2" y1="330.85" x2="638.6" y2="330.85"/><line x1="368.3" y1="332.60" x2="638.3" y2="332.60"/><line x1="509.8" y1="334.35" x2="596.4" y2="334.35"/><line x1="506.7" y1="336.09" x2="595.6" y2="336.09"/><line x1="487.7" y1="337.84" x2="594.8" y2="337.84"/><line x1="387.1" y1="339.58" x2="637.5" y2="339.58"/><line x1="517.9" y1="341.33" x2="638.6" y2="341.33"/><line x1="487.7" y1="343.08" x2="636.6" y2="343.08"/><line x1="466.6" y1="344.82" x2="635.8" y2="344.82"/><line x1="192.5" y1="346.57" x2="635.4" y2="346.57"/><line x1="481.1" y1="348.31" x2="635.0" y2="348.31"/><line x1="453.3" y1="350.06" x2="591.2" y2="350.06"/><line x1="431.0" y1="351.81" x2="634.2" y2="351.81"/><line x1="308.9" y1="355.30" x2="590.0" y2="355.30"/><line x1="387.1" y1="357.04" x2="634.2" y2="357.04"/><line x1="603.6" y1="358.79" x2="619.7" y2="358.79"/><line x1="264.6" y1="360.54" x2="589.6" y2="360.54"/><line x1="487.7" y1="362.28" x2="634.2" y2="362.28"/><line x1="456.3" y1="364.03" x2="631.8" y2="364.03"/><line x1="424.9" y1="365.77" x2="631.8" y2="365.77"/><line x1="346.1" y1="367.52" x2="588.3" y2="367.52"/><line x1="535.1" y1="369.27" x2="592.8" y2="369.27"/><line x1="393.1" y1="371.01" x2="631.0" y2="371.01"/><line x1="409.2" y1="372.76" x2="631.0" y2="372.76"/><line x1="364.9" y1="374.50" x2="630.2" y2="374.50"/><line x1="481.1" y1="376.25" x2="631.0" y2="376.25"/><line x1="475.1" y1="378.00" x2="586.7" y2="378.00"/><line x1="434.6" y1="379.74" x2="585.9" y2="379.74"/><line x1="428.0" y1="381.49" x2="585.1" y2="381.49"/><line x1="403.0" y1="383.23" x2="585.1" y2="383.23"/><line x1="515.2" y1="384.98" x2="631.0" y2="384.98"/><line x1="428.0" y1="386.73" x2="584.3" y2="386.73"/><line x1="506.5" y1="388.47" x2="630.2" y2="388.47"/><line x1="195.9" y1="390.22" x2="627.0" y2="390.22"/><line x1="307.8" y1="391.96" x2="584.3" y2="391.96"/><line x1="321.1" y1="393.71" x2="583.8" y2="393.71"/><line x1="337.7" y1="395.46" x2="627.0" y2="395.46"/><line x1="488.4" y1="397.20" x2="585.1" y2="397.20"/><line x1="481.1" y1="398.95" x2="628.6" y2="398.95"/><line x1="497.1" y1="400.69" x2="628.9" y2="400.69"/><line x1="343.2" y1="402.44" x2="627.0" y2="402.44"/><line x1="511.3" y1="404.19" x2="629.9" y2="404.19"/><line x1="516.7" y1="405.93" x2="629.4" y2="405.93"/><line x1="434.0" y1="407.68" x2="583.5" y2="407.68"/><line x1="494.1" y1="409.42" x2="583.5" y2="409.42"/><line x1="396.8" y1="411.17" x2="626.2" y2="411.17"/><line x1="324.4" y1="412.92" x2="625.4" y2="412.92"/><line x1="210.9" y1="414.66" x2="582.7" y2="414.66"/><line x1="581.6" y1="416.41" x2="646.6" y2="416.41"/><line x1="528.5" y1="418.15" x2="629.4" y2="418.15"/><line x1="434.0" y1="419.90" x2="623.8" y2="419.90"/><line x1="371.6" y1="421.65" x2="623.4" y2="421.65"/><line x1="412.2" y1="423.39" x2="580.0" y2="423.39"/><line x1="296.3" y1="425.14" x2="623.0" y2="425.14"/><line x1="356.1" y1="428.63" x2="622.2" y2="428.63"/><line x1="252.0" y1="430.38" x2="577.0" y2="430.38"/><line x1="287.4" y1="432.12" x2="620.5" y2="432.12"/><line x1="371.6" y1="433.87" x2="620.2" y2="433.87"/><line x1="333.9" y1="435.61" x2="619.7" y2="435.61"/><line x1="312.2" y1="437.36" x2="575.4" y2="437.36"/><line x1="340.6" y1="439.11" x2="575.1" y2="439.11"/><line x1="356.1" y1="440.85" x2="618.9" y2="440.85"/><line x1="412.2" y1="442.60" x2="574.6" y2="442.60"/><line x1="312.2" y1="444.34" x2="574.1" y2="444.34"/><line x1="472.0" y1="446.09" x2="618.9" y2="446.09"/><line x1="227.5" y1="447.84" x2="573.0" y2="447.84"/><line x1="409.5" y1="449.58" x2="572.2" y2="449.58"/><line x1="176.6" y1="451.33" x2="572.2" y2="451.33"/><line x1="280.8" y1="453.07" x2="614.9" y2="453.07"/><line x1="233.1" y1="454.82" x2="614.9" y2="454.82"/><line x1="459.4" y1="456.57" x2="570.6" y2="456.57"/><line x1="331.7" y1="458.31" x2="570.6" y2="458.31"/><line x1="331.7" y1="460.06" x2="570.6" y2="460.06"/><line x1="343.2" y1="461.80" x2="570.6" y2="461.80"/><line x1="400.4" y1="463.55" x2="613.8" y2="463.55"/><line x1="204.9" y1="465.30" x2="612.5" y2="465.30"/><line x1="265.3" y1="467.04" x2="612.5" y2="467.04"/><line x1="353.2" y1="468.79" x2="569.0" y2="468.79"/><line x1="290.1" y1="470.53" x2="611.7" y2="470.53"/><line x1="151.8" y1="472.28" x2="568.2" y2="472.28"/><line x1="261.7" y1="474.03" x2="568.2" y2="474.03"/><line x1="503.1" y1="475.77" x2="614.4" y2="475.77"/><line x1="290.1" y1="477.52" x2="565.0" y2="477.52"/><line x1="90.2" y1="479.26" x2="564.2" y2="479.26"/><line x1="171.1" y1="481.01" x2="564.2" y2="481.01"/><line x1="217.6" y1="482.76" x2="564.2" y2="482.76"/><line x1="559.9" y1="484.50" x2="627.8" y2="484.50"/><line x1="581.9" y1="486.25" x2="638.3" y2="486.25"/><line x1="559.3" y1="487.99" x2="625.4" y2="487.99"/><line x1="566.5" y1="489.74" x2="575.0" y2="489.74"/><line x1="274.1" y1="491.49" x2="603.0" y2="491.49"/><line x1="202.1" y1="493.23" x2="601.0" y2="493.23"/><line x1="152.2" y1="496.72" x2="599.0" y2="496.72"/><line x1="249.1" y1="498.47" x2="598.0" y2="498.47"/><line x1="588.0" y1="500.22" x2="631.4" y2="500.22"/><line x1="618.9" y1="503.71" x2="657.6" y2="503.71"/><line x1="618.9" y1="505.45" x2="657.6" y2="505.45"/><line x1="638.3" y1="508.95" x2="657.6" y2="508.95"/><line x1="650.3" y1="510.69" x2="661.4" y2="510.69"/></g>
<g fill="rgb(228,180,60)" fill-opacity="0.6" stroke="rgb(228,180,60)" stroke-opacity="0.6" stroke-width="0.7" stroke-linejoin="round"><path d="M425.5 288.95l7.0 -3.8v7.6z"/><path d="M465.9 290.70l7.0 -3.8v7.6z"/><path d="M465.9 292.44l7.0 -3.8v7.6z"/><path d="M305.6 294.19l7.0 -3.8v7.6z"/><path d="M422.4 295.93l7.0 -3.8v7.6z"/><path d="M305.6 297.68l7.0 -3.8v7.6z"/><path d="M447.5 299.43l7.0 -3.8v7.6z"/><path d="M396.9 301.17l7.0 -3.8v7.6z"/><path d="M511.5 302.92l7.0 -3.8v7.6z"/><path d="M453.6 304.66l7.0 -3.8v7.6z"/><path d="M428.5 306.41l7.0 -3.8v7.6z"/><path d="M412.7 308.16l7.0 -3.8v7.6z"/><path d="M488.2 309.90l7.0 -3.8v7.6z"/><path d="M497.6 313.39l7.0 -3.8v7.6z"/><path d="M321.6 318.63l7.0 -3.8v7.6z"/><path d="M465.9 320.38l7.0 -3.8v7.6z"/><path d="M582.7 322.12l7.0 -3.8v7.6z"/><path d="M390.2 323.87l7.0 -3.8v7.6z"/><path d="M494.6 325.62l7.0 -3.8v7.6z"/><path d="M547.7 327.36l7.0 -3.8v7.6z"/><path d="M428.5 329.11l7.0 -3.8v7.6z"/><path d="M412.7 330.85l7.0 -3.8v7.6z"/><path d="M368.8 332.60l7.0 -3.8v7.6z"/><path d="M510.3 334.35l7.0 -3.8v7.6z"/><path d="M507.2 336.09l7.0 -3.8v7.6z"/><path d="M488.2 337.84l7.0 -3.8v7.6z"/><path d="M387.6 339.58l7.0 -3.8v7.6z"/><path d="M518.4 341.33l7.0 -3.8v7.6z"/><path d="M488.2 343.08l7.0 -3.8v7.6z"/><path d="M467.1 344.82l7.0 -3.8v7.6z"/><path d="M193.0 346.57l7.0 -3.8v7.6z"/><path d="M481.6 348.31l7.0 -3.8v7.6z"/><path d="M453.8 350.06l7.0 -3.8v7.6z"/><path d="M431.5 351.81l7.0 -3.8v7.6z"/><path d="M309.4 355.30l7.0 -3.8v7.6z"/><path d="M387.6 357.04l7.0 -3.8v7.6z"/><path d="M604.1 358.79l7.0 -3.8v7.6z"/><path d="M265.1 360.54l7.0 -3.8v7.6z"/><path d="M488.2 362.28l7.0 -3.8v7.6z"/><path d="M456.8 364.03l7.0 -3.8v7.6z"/><path d="M425.4 365.77l7.0 -3.8v7.6z"/><path d="M346.6 367.52l7.0 -3.8v7.6z"/><path d="M535.6 369.27l7.0 -3.8v7.6z"/><path d="M393.6 371.01l7.0 -3.8v7.6z"/><path d="M409.7 372.76l7.0 -3.8v7.6z"/><path d="M365.4 374.50l7.0 -3.8v7.6z"/><path d="M481.6 376.25l7.0 -3.8v7.6z"/><path d="M475.6 378.00l7.0 -3.8v7.6z"/><path d="M435.1 379.74l7.0 -3.8v7.6z"/><path d="M428.5 381.49l7.0 -3.8v7.6z"/><path d="M403.5 383.23l7.0 -3.8v7.6z"/><path d="M515.7 384.98l7.0 -3.8v7.6z"/><path d="M428.5 386.73l7.0 -3.8v7.6z"/><path d="M507.0 388.47l7.0 -3.8v7.6z"/><path d="M196.4 390.22l7.0 -3.8v7.6z"/><path d="M308.3 391.96l7.0 -3.8v7.6z"/><path d="M321.6 393.71l7.0 -3.8v7.6z"/><path d="M338.2 395.46l7.0 -3.8v7.6z"/><path d="M488.9 397.20l7.0 -3.8v7.6z"/><path d="M481.6 398.95l7.0 -3.8v7.6z"/><path d="M497.6 400.69l7.0 -3.8v7.6z"/><path d="M343.7 402.44l7.0 -3.8v7.6z"/><path d="M511.8 404.19l7.0 -3.8v7.6z"/><path d="M517.2 405.93l7.0 -3.8v7.6z"/><path d="M434.5 407.68l7.0 -3.8v7.6z"/><path d="M494.6 409.42l7.0 -3.8v7.6z"/><path d="M397.3 411.17l7.0 -3.8v7.6z"/><path d="M324.9 412.92l7.0 -3.8v7.6z"/><path d="M211.4 414.66l7.0 -3.8v7.6z"/><path d="M582.1 416.41l7.0 -3.8v7.6z"/><path d="M529.0 418.15l7.0 -3.8v7.6z"/><path d="M434.5 419.90l7.0 -3.8v7.6z"/><path d="M372.1 421.65l7.0 -3.8v7.6z"/><path d="M412.7 423.39l7.0 -3.8v7.6z"/><path d="M296.8 425.14l7.0 -3.8v7.6z"/><path d="M356.6 428.63l7.0 -3.8v7.6z"/><path d="M252.5 430.38l7.0 -3.8v7.6z"/><path d="M287.9 432.12l7.0 -3.8v7.6z"/><path d="M372.1 433.87l7.0 -3.8v7.6z"/><path d="M334.4 435.61l7.0 -3.8v7.6z"/><path d="M312.7 437.36l7.0 -3.8v7.6z"/><path d="M341.1 439.11l7.0 -3.8v7.6z"/><path d="M356.6 440.85l7.0 -3.8v7.6z"/><path d="M412.7 442.60l7.0 -3.8v7.6z"/><path d="M312.7 444.34l7.0 -3.8v7.6z"/><path d="M472.5 446.09l7.0 -3.8v7.6z"/><path d="M228.0 447.84l7.0 -3.8v7.6z"/><path d="M410.0 449.58l7.0 -3.8v7.6z"/><path d="M177.1 451.33l7.0 -3.8v7.6z"/><path d="M281.3 453.07l7.0 -3.8v7.6z"/><path d="M233.6 454.82l7.0 -3.8v7.6z"/><path d="M459.9 456.57l7.0 -3.8v7.6z"/><path d="M332.2 458.31l7.0 -3.8v7.6z"/><path d="M332.2 460.06l7.0 -3.8v7.6z"/><path d="M343.7 461.80l7.0 -3.8v7.6z"/><path d="M400.9 463.55l7.0 -3.8v7.6z"/><path d="M205.4 465.30l7.0 -3.8v7.6z"/><path d="M265.8 467.04l7.0 -3.8v7.6z"/><path d="M353.7 468.79l7.0 -3.8v7.6z"/><path d="M290.6 470.53l7.0 -3.8v7.6z"/><path d="M152.3 472.28l7.0 -3.8v7.6z"/><path d="M262.2 474.03l7.0 -3.8v7.6z"/><path d="M503.6 475.77l7.0 -3.8v7.6z"/><path d="M290.6 477.52l7.0 -3.8v7.6z"/><path d="M90.7 479.26l7.0 -3.8v7.6z"/><path d="M171.6 481.01l7.0 -3.8v7.6z"/><path d="M218.1 482.76l7.0 -3.8v7.6z"/><path d="M560.4 484.50l7.0 -3.8v7.6z"/><path d="M582.4 486.25l7.0 -3.8v7.6z"/><path d="M559.8 487.99l7.0 -3.8v7.6z"/><path d="M567.0 489.74l7.0 -3.8v7.6z"/><path d="M274.6 491.49l7.0 -3.8v7.6z"/><path d="M202.6 493.23l7.0 -3.8v7.6z"/><path d="M152.7 496.72l7.0 -3.8v7.6z"/><path d="M249.6 498.47l7.0 -3.8v7.6z"/><path d="M588.5 500.22l7.0 -3.8v7.6z"/><path d="M619.4 503.71l7.0 -3.8v7.6z"/><path d="M619.4 505.45l7.0 -3.8v7.6z"/><path d="M638.8 508.95l7.0 -3.8v7.6z"/><path d="M650.8 510.69l7.0 -3.8v7.6z"/></g>
</g>
<path d="M89.8 8.2V543.6H746" fill="none" stroke="#000" stroke-width="1.8" stroke-linejoin="round"/>
<line x1="82.5" y1="276.50" x2="89.7" y2="276.50" stroke="#333" stroke-width="1.7" stroke-linecap="round"/>
<line x1="82.5" y1="32.30" x2="89.7" y2="32.30" stroke="#333" stroke-width="1.7" stroke-linecap="round"/>
<line x1="104.58" y1="543.6" x2="104.58" y2="550.8" stroke="#333" stroke-width="1.7" stroke-linecap="round"/>
<line x1="176.85" y1="543.6" x2="176.85" y2="550.8" stroke="#333" stroke-width="1.7" stroke-linecap="round"/>
<line x1="249.12" y1="543.6" x2="249.12" y2="550.8" stroke="#333" stroke-width="1.7" stroke-linecap="round"/>
<line x1="321.39" y1="543.6" x2="321.39" y2="550.8" stroke="#333" stroke-width="1.7" stroke-linecap="round"/>
<line x1="393.66" y1="543.6" x2="393.66" y2="550.8" stroke="#333" stroke-width="1.7" stroke-linecap="round"/>
<line x1="465.93" y1="543.6" x2="465.93" y2="550.8" stroke="#333" stroke-width="1.7" stroke-linecap="round"/>
<line x1="538.20" y1="543.6" x2="538.20" y2="550.8" stroke="#333" stroke-width="1.7" stroke-linecap="round"/>
<line x1="610.47" y1="543.6" x2="610.47" y2="550.8" stroke="#333" stroke-width="1.7" stroke-linecap="round"/>
<line x1="682.74" y1="543.6" x2="682.74" y2="550.8" stroke="#333" stroke-width="1.7" stroke-linecap="round"/>
</svg>
<div class="t yl" style="left:56.5px;top:14.8px"><svg class="g1" viewBox="0 0 556 709"><path d="M301 709H389V0H318C300 69 255 109 127 129V209H301Z"/></svg></div>
<div class="t yl" style="left:55.6px;top:258.4px">0</div>
<div class="t xl" style="left:81.3px;top:564.4px"><svg class="g1" viewBox="0 0 556 709"><path d="M301 709H389V0H318C300 69 255 109 127 129V209H301Z"/></svg>0<sup>-6</sup></div>
<div class="t xl" style="left:146.3px;top:564.4px"><svg class="g1" viewBox="0 0 556 709"><path d="M301 709H389V0H318C300 69 255 109 127 129V209H301Z"/></svg>0<sup>-5</sup></div>
<div class="t xl" style="left:218.5px;top:564.4px"><svg class="g1" viewBox="0 0 556 709"><path d="M301 709H389V0H318C300 69 255 109 127 129V209H301Z"/></svg>0<sup>-4</sup></div>
<div class="t xl" style="left:291.5px;top:564.4px"><svg class="g1" viewBox="0 0 556 709"><path d="M301 709H389V0H318C300 69 255 109 127 129V209H301Z"/></svg>0<sup>-3</sup></div>
<div class="t xl" style="left:359.5px;top:564.4px">0.0<svg class="g1" viewBox="0 0 556 709"><path d="M301 709H389V0H318C300 69 255 109 127 129V209H301Z"/></svg></div>
<div class="t xl" style="left:444.2px;top:564.4px">0.<svg class="g1" viewBox="0 0 556 709"><path d="M301 709H389V0H318C300 69 255 109 127 129V209H301Z"/></svg></div>
<div class="t xl" style="left:524.9px;top:564.4px"><svg class="g1" viewBox="0 0 556 709"><path d="M301 709H389V0H318C300 69 255 109 127 129V209H301Z"/></svg></div>
<div class="t xl" style="left:586.8px;top:564.4px"><svg class="g1" viewBox="0 0 556 709"><path d="M301 709H389V0H318C300 69 255 109 127 129V209H301Z"/></svg>0</div>
<div class="t xl" style="left:644.1px;top:564.4px"><svg class="g1" viewBox="0 0 556 709"><path d="M301 709H389V0H318C300 69 255 109 127 129V209H301Z"/></svg>00</div>
<div class="key" style="left:121px;top:1px;width:41.5px;height:41.5px;background:rgb(239,212,143)"></div>
<div class="key" style="left:121px;top:46.5px;width:41.5px;height:41.8px;background:rgb(141,200,208)"></div>
<div class="t leg" style="left:173.4px;top:0.6px">Translation</div>
<div class="t leg" style="left:173.0px;top:53.2px">Folding</div>
<div class="t leg" style="left:349.8px;top:621.2px;letter-spacing:0.42px">Time (s)</div>
<div class="t leg" style="left:-3.0px;top:438.0px;transform-origin:0 0;transform:rotate(-90deg);letter-spacing:-0.12px">Scaled density</div>
</body></html>
